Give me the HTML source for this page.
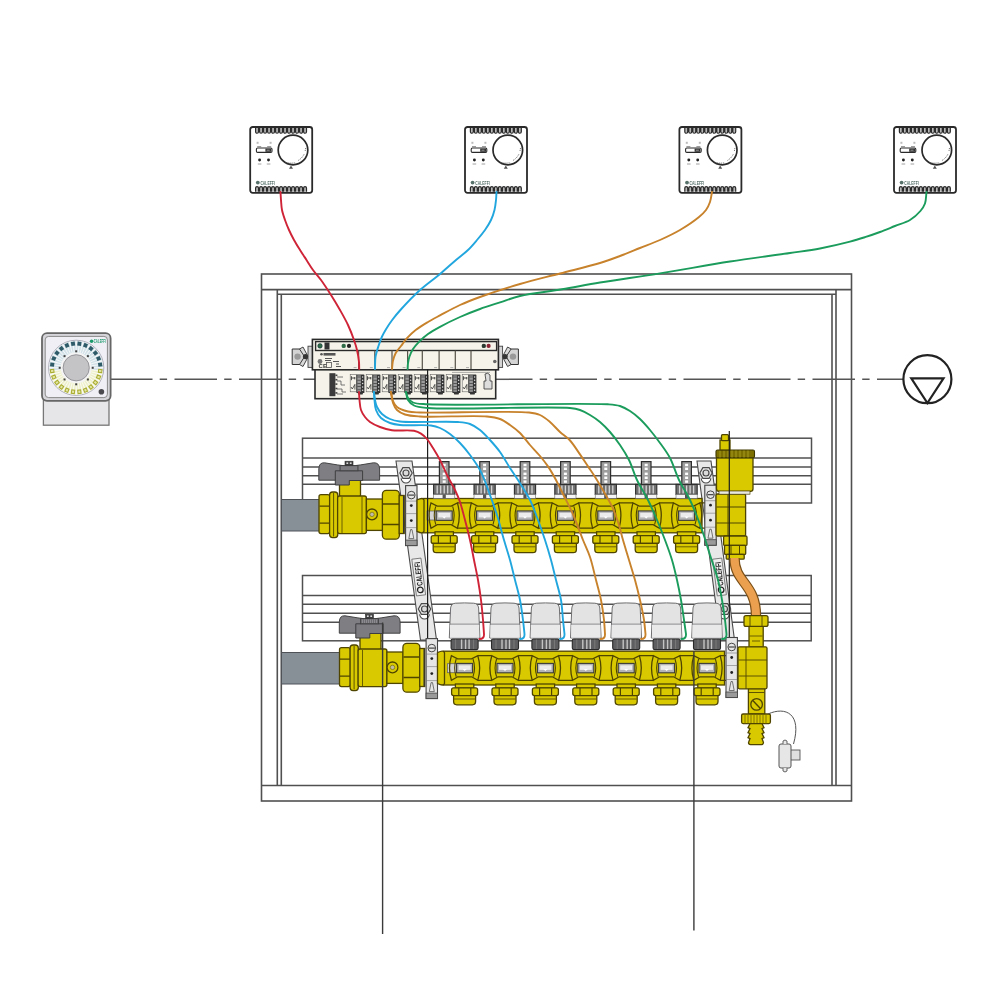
<!DOCTYPE html><html><head><meta charset="utf-8"><style>html,body{margin:0;padding:0;background:#fff}svg{display:block;will-change:transform}</style></head><body>
<svg width="1000" height="1000" viewBox="0 0 1000 1000"><defs><g id="thermo"><rect x="0" y="0" width="62" height="65.8" rx="2.5" fill="#fff" stroke="#2a2a2a" stroke-width="1.8"/><path d="M5.40 1 v3.8 a1.45 1.45 0 0 0 2.9 0 v-3.8 M9.40 1 v3.8 a1.45 1.45 0 0 0 2.9 0 v-3.8 M13.40 1 v3.8 a1.45 1.45 0 0 0 2.9 0 v-3.8 M17.40 1 v3.8 a1.45 1.45 0 0 0 2.9 0 v-3.8 M21.40 1 v3.8 a1.45 1.45 0 0 0 2.9 0 v-3.8 M25.40 1 v3.8 a1.45 1.45 0 0 0 2.9 0 v-3.8 M29.40 1 v3.8 a1.45 1.45 0 0 0 2.9 0 v-3.8 M33.40 1 v3.8 a1.45 1.45 0 0 0 2.9 0 v-3.8 M37.40 1 v3.8 a1.45 1.45 0 0 0 2.9 0 v-3.8 M41.40 1 v3.8 a1.45 1.45 0 0 0 2.9 0 v-3.8 M45.40 1 v3.8 a1.45 1.45 0 0 0 2.9 0 v-3.8 M49.40 1 v3.8 a1.45 1.45 0 0 0 2.9 0 v-3.8 M53.40 1 v3.8 a1.45 1.45 0 0 0 2.9 0 v-3.8 " fill="#b8b8b8" stroke="#2a2a2a" stroke-width="1.2"/><path d="M5.40 64.8 v-3.8 a1.45 1.45 0 0 1 2.9 0 v3.8 M9.40 64.8 v-3.8 a1.45 1.45 0 0 1 2.9 0 v3.8 M13.40 64.8 v-3.8 a1.45 1.45 0 0 1 2.9 0 v3.8 M17.40 64.8 v-3.8 a1.45 1.45 0 0 1 2.9 0 v3.8 M21.40 64.8 v-3.8 a1.45 1.45 0 0 1 2.9 0 v3.8 M25.40 64.8 v-3.8 a1.45 1.45 0 0 1 2.9 0 v3.8 M29.40 64.8 v-3.8 a1.45 1.45 0 0 1 2.9 0 v3.8 M33.40 64.8 v-3.8 a1.45 1.45 0 0 1 2.9 0 v3.8 M37.40 64.8 v-3.8 a1.45 1.45 0 0 1 2.9 0 v3.8 M41.40 64.8 v-3.8 a1.45 1.45 0 0 1 2.9 0 v3.8 M45.40 64.8 v-3.8 a1.45 1.45 0 0 1 2.9 0 v3.8 M49.40 64.8 v-3.8 a1.45 1.45 0 0 1 2.9 0 v3.8 M53.40 64.8 v-3.8 a1.45 1.45 0 0 1 2.9 0 v3.8 " fill="#b8b8b8" stroke="#2a2a2a" stroke-width="1.2"/><circle cx="42.8" cy="23" r="14.8" fill="#fff" stroke="#2a2a2a" stroke-width="1.7"/><path d="M35.5 35.5 q5 1.2 10 0.2 M48 33.5 q4 -2.5 6 -6.5 M55 24 l0.5 -3" stroke="#555" stroke-width="0.8" fill="none" stroke-dasharray="1.2 0.8"/><path d="M38.8 41.8 l2 -3.4 l2 3.4 z" fill="#555"/><rect x="6.2" y="21" width="15.6" height="4.4" rx="1.2" fill="#fff" stroke="#2a2a2a" stroke-width="1.1"/><rect x="15.2" y="21.6" width="5.8" height="3.2" fill="#333"/><path d="M16.5 23.2 h3" stroke="#ddd" stroke-width="0.6"/><rect x="6.4" y="14.8" width="2" height="2" fill="#bbb"/><rect x="19.4" y="14.8" width="2" height="2" fill="#bbb"/><path d="M7 19.7 h4 M17 19.7 h4" stroke="#666" stroke-width="0.8"/><circle cx="9.4" cy="33" r="1.45" fill="#222"/><circle cx="18.3" cy="33" r="1.45" fill="#222"/><path d="M7.6 37 h3.6 M16.6 37 h3.6" stroke="#888" stroke-width="0.8"/><g fill="#56706a"><circle cx="7.6" cy="55.6" r="1.9"/></g><text x="10.2" y="57.6" font-family="Liberation Sans" font-weight="bold" font-size="5" textLength="14.5" lengthAdjust="spacingAndGlyphs" fill="#56706a">CALEFFI</text></g><g id="valveasm"><path d="M339.5 470 h21 v27 h-21 z" fill="#d9c900" stroke="#4f4500" stroke-width="1.3"/><path d="M340 496 q10 6 20 0" fill="none" stroke="#4f4500" stroke-width="1"/><rect x="319" y="494.7" width="10.8" height="38.9" rx="2" fill="#d9c900" stroke="#4f4500" stroke-width="1.3"/><path d="M319.5 506.2 h10 M319.5 523.2 h10" stroke="#4f4500" stroke-width="1.3"/><rect x="329.6" y="492" width="8.2" height="45.6" rx="3" fill="#d9c900" stroke="#4f4500" stroke-width="1.3"/><line x1="333.6" y1="493" x2="333.6" y2="536.5" stroke="#4f4500" stroke-width="0.9"/><rect x="337.6" y="496" width="28.8" height="37.6" rx="2" fill="#d9c900" stroke="#4f4500" stroke-width="1.3"/><path d="M342 497 v36 M362 497 v36" stroke="#4f4500" stroke-width="0.8"/><rect x="366.4" y="499" width="16.2" height="31.4" fill="#d9c900" stroke="#4f4500" stroke-width="1.3"/><circle cx="372" cy="514.4" r="5.4" fill="#d9c900" stroke="#4f4500" stroke-width="1.3"/><circle cx="372" cy="514.4" r="2.2" fill="#c0baa8" stroke="#6a6000" stroke-width="0.6"/><rect x="382.4" y="490.4" width="17" height="48.8" rx="4" fill="#d9c900" stroke="#4f4500" stroke-width="1.3"/><path d="M383 504 h16 M383 524.5 h16" stroke="#4f4500" stroke-width="1.4"/><rect x="399.2" y="495.5" width="5" height="38" fill="#d9c900" stroke="#4f4500" stroke-width="1.3"/><line x1="403.6" y1="496" x2="403.6" y2="533" stroke="#333" stroke-width="1.3"/><path d="M318.8 480.2 L318.8 469 Q319 462.4 324.5 462.8 Q338 465.2 349 466.4 Q360 465.2 373.5 462.8 Q379.4 462.4 379.6 469 L379.6 480.2 Z" fill="#7f7f83" stroke="#444446" stroke-width="1"/><path d="M335.3 470.8 h27.3 v9.7 h-13.3 v4.5 h-14 z" fill="#7c7c80" stroke="#3e3e40" stroke-width="1"/><rect x="340" y="465.6" width="18" height="5.2" fill="#6e6e72" stroke="#3e3e40" stroke-width="0.8"/><path d="M342 466.5 v3.5 M344 466.5 v3.5 M346 466.5 v3.5 M348 466.5 v3.5 M350 466.5 v3.5 M352 466.5 v3.5 M354 466.5 v3.5 M356 466.5 v3.5" stroke="#a0a0a4" stroke-width="0.6"/><rect x="345" y="461.2" width="8" height="4.4" fill="#3c3c3e" stroke="#333" stroke-width="0.6"/><rect x="346.4" y="462.4" width="1.8" height="1.6" fill="#ddd"/><rect x="349.8" y="462.4" width="1.8" height="1.6" fill="#ddd"/><g transform="translate(405.6 485.6)"><rect x="0" y="0" width="11.4" height="60" fill="#e6e6e7" stroke="#444" stroke-width="1.1"/><circle cx="5.7" cy="9.5" r="3.8" fill="#e6e6e7" stroke="#333" stroke-width="0.9"/><path d="M2.6 9.5 h6.2" stroke="#333" stroke-width="1.1"/><path d="M0 15.5 h11.4 M0 28 h11.4 M0 42 h11.4" stroke="#777" stroke-width="0.6"/><circle cx="5.7" cy="20" r="1.4" fill="#222"/><circle cx="5.7" cy="35" r="1.4" fill="#222"/><path d="M3.2 53 L5 44 h1.4 L8.2 53 Z" fill="none" stroke="#555" stroke-width="0.8"/><rect x="0" y="54.5" width="11.4" height="5.5" fill="#9a9a9a" stroke="#444" stroke-width="0.8"/></g></g></defs><rect width="1000" height="1000" fill="#fff"/><g fill="none" stroke="#505050" stroke-width="1.6"><rect x="261.5" y="274" width="590" height="527"/><line x1="261.5" y1="289.6" x2="851.5" y2="289.6"/><line x1="261.5" y1="785.5" x2="851.5" y2="785.5"/><line x1="277.3" y1="289.6" x2="277.3" y2="785.5"/><line x1="281.3" y1="294.2" x2="281.3" y2="785.5"/><line x1="277.3" y1="294.2" x2="836" y2="294.2"/><line x1="836" y1="289.6" x2="836" y2="785.5"/><line x1="832" y1="294.2" x2="832" y2="785.5"/></g>
<line x1="110" y1="379.3" x2="315" y2="379.3" stroke="#555" stroke-width="1.5" stroke-dasharray="42.5 7.2 7.4 7.4"/>
<line x1="495.5" y1="379.3" x2="903" y2="379.3" stroke="#555" stroke-width="1.5" stroke-dasharray="42.5 7.2 7.4 7.4" stroke-dashoffset="5.5"/>
<circle cx="927.4" cy="379.2" r="24" fill="none" stroke="#222" stroke-width="2.2"/>
<path d="M911.3 378.3 L943.5 378.3 L927.4 403 Z" fill="none" stroke="#222" stroke-width="2.2" stroke-linejoin="miter"/>
<g><rect x="43.4" y="399" width="65.6" height="26.2" fill="#e6e6e8" stroke="#777" stroke-width="1.3"/><rect x="42" y="333.2" width="68.6" height="67.6" rx="5" fill="#d6d6da" stroke="#666" stroke-width="1.8"/><rect x="45.2" y="336.4" width="62.2" height="61.2" rx="3.5" fill="#f0eff6" stroke="#8a8a8a" stroke-width="1"/><circle cx="76.2" cy="367.8" r="27.6" fill="#f4f4f4" stroke="#9a9aa8" stroke-width="0.8"/><line x1="77.21" y1="352.33" x2="77.97" y2="340.86" stroke="#d3e2e8" stroke-width="2.6"/><line x1="79.22" y1="352.60" x2="81.47" y2="341.32" stroke="#d3e2e8" stroke-width="2.6"/><line x1="81.18" y1="353.12" x2="84.88" y2="342.23" stroke="#d3e2e8" stroke-width="2.6"/><line x1="83.06" y1="353.90" x2="88.14" y2="343.58" stroke="#d3e2e8" stroke-width="2.6"/><line x1="84.81" y1="354.91" x2="91.20" y2="345.35" stroke="#d3e2e8" stroke-width="2.6"/><line x1="86.42" y1="356.15" x2="94.00" y2="347.50" stroke="#d3e2e8" stroke-width="2.6"/><line x1="87.85" y1="357.58" x2="96.50" y2="350.00" stroke="#d3e2e8" stroke-width="2.6"/><line x1="89.09" y1="359.19" x2="98.65" y2="352.80" stroke="#d3e2e8" stroke-width="2.6"/><line x1="90.10" y1="360.94" x2="100.42" y2="355.86" stroke="#d3e2e8" stroke-width="2.6"/><line x1="90.88" y1="362.82" x2="101.77" y2="359.12" stroke="#d3e2e8" stroke-width="2.6"/><line x1="91.40" y1="364.78" x2="102.68" y2="362.53" stroke="#d3e2e8" stroke-width="2.6"/><line x1="91.67" y1="366.79" x2="103.14" y2="366.03" stroke="#d3e2e8" stroke-width="2.6"/><line x1="91.67" y1="368.81" x2="103.14" y2="369.57" stroke="#d3e2e8" stroke-width="2.6"/><line x1="91.40" y1="370.82" x2="102.68" y2="373.07" stroke="#eef0cc" stroke-width="2.6"/><line x1="90.88" y1="372.78" x2="101.77" y2="376.48" stroke="#eef0cc" stroke-width="2.6"/><line x1="90.10" y1="374.66" x2="100.42" y2="379.74" stroke="#eef0cc" stroke-width="2.6"/><line x1="89.09" y1="376.41" x2="98.65" y2="382.80" stroke="#eef0cc" stroke-width="2.6"/><line x1="87.85" y1="378.02" x2="96.50" y2="385.60" stroke="#eef0cc" stroke-width="2.6"/><line x1="86.42" y1="379.45" x2="94.00" y2="388.10" stroke="#eef0cc" stroke-width="2.6"/><line x1="84.81" y1="380.69" x2="91.20" y2="390.25" stroke="#eef0cc" stroke-width="2.6"/><line x1="83.06" y1="381.70" x2="88.14" y2="392.02" stroke="#eef0cc" stroke-width="2.6"/><line x1="81.18" y1="382.48" x2="84.88" y2="393.37" stroke="#eef0cc" stroke-width="2.6"/><line x1="79.22" y1="383.00" x2="81.47" y2="394.28" stroke="#eef0cc" stroke-width="2.6"/><line x1="77.21" y1="383.27" x2="77.97" y2="394.74" stroke="#eef0cc" stroke-width="2.6"/><line x1="75.19" y1="383.27" x2="74.43" y2="394.74" stroke="#eef0cc" stroke-width="2.6"/><line x1="73.18" y1="383.00" x2="70.93" y2="394.28" stroke="#eef0cc" stroke-width="2.6"/><line x1="71.22" y1="382.48" x2="67.52" y2="393.37" stroke="#eef0cc" stroke-width="2.6"/><line x1="69.34" y1="381.70" x2="64.26" y2="392.02" stroke="#eef0cc" stroke-width="2.6"/><line x1="67.59" y1="380.69" x2="61.20" y2="390.25" stroke="#eef0cc" stroke-width="2.6"/><line x1="65.98" y1="379.45" x2="58.40" y2="388.10" stroke="#eef0cc" stroke-width="2.6"/><line x1="64.55" y1="378.02" x2="55.90" y2="385.60" stroke="#eef0cc" stroke-width="2.6"/><line x1="63.31" y1="376.41" x2="53.75" y2="382.80" stroke="#eef0cc" stroke-width="2.6"/><line x1="62.30" y1="374.66" x2="51.98" y2="379.74" stroke="#eef0cc" stroke-width="2.6"/><line x1="61.52" y1="372.78" x2="50.63" y2="376.48" stroke="#eef0cc" stroke-width="2.6"/><line x1="61.00" y1="370.82" x2="49.72" y2="373.07" stroke="#eef0cc" stroke-width="2.6"/><line x1="60.73" y1="368.81" x2="49.26" y2="369.57" stroke="#d3e2e8" stroke-width="2.6"/><line x1="60.73" y1="366.79" x2="49.26" y2="366.03" stroke="#d3e2e8" stroke-width="2.6"/><line x1="61.00" y1="364.78" x2="49.72" y2="362.53" stroke="#d3e2e8" stroke-width="2.6"/><line x1="61.52" y1="362.82" x2="50.63" y2="359.12" stroke="#d3e2e8" stroke-width="2.6"/><line x1="62.30" y1="360.94" x2="51.98" y2="355.86" stroke="#d3e2e8" stroke-width="2.6"/><line x1="63.31" y1="359.19" x2="53.75" y2="352.80" stroke="#d3e2e8" stroke-width="2.6"/><line x1="64.55" y1="357.58" x2="55.90" y2="350.00" stroke="#d3e2e8" stroke-width="2.6"/><line x1="65.98" y1="356.15" x2="58.40" y2="347.50" stroke="#d3e2e8" stroke-width="2.6"/><line x1="67.59" y1="354.91" x2="61.20" y2="345.35" stroke="#d3e2e8" stroke-width="2.6"/><line x1="69.34" y1="353.90" x2="64.26" y2="343.58" stroke="#d3e2e8" stroke-width="2.6"/><line x1="71.22" y1="353.12" x2="67.52" y2="342.23" stroke="#d3e2e8" stroke-width="2.6"/><line x1="73.18" y1="352.60" x2="70.93" y2="341.32" stroke="#d3e2e8" stroke-width="2.6"/><line x1="75.19" y1="352.33" x2="74.43" y2="340.86" stroke="#d3e2e8" stroke-width="2.6"/><line x1="76.20" y1="352.30" x2="76.20" y2="340.80" stroke="#fff" stroke-width="0.7"/><line x1="78.22" y1="352.43" x2="79.72" y2="341.03" stroke="#fff" stroke-width="0.7"/><line x1="80.21" y1="352.83" x2="83.19" y2="341.72" stroke="#fff" stroke-width="0.7"/><line x1="82.13" y1="353.48" x2="86.53" y2="342.86" stroke="#fff" stroke-width="0.7"/><line x1="83.95" y1="354.38" x2="89.70" y2="344.42" stroke="#fff" stroke-width="0.7"/><line x1="85.64" y1="355.50" x2="92.64" y2="346.38" stroke="#fff" stroke-width="0.7"/><line x1="87.16" y1="356.84" x2="95.29" y2="348.71" stroke="#fff" stroke-width="0.7"/><line x1="88.50" y1="358.36" x2="97.62" y2="351.36" stroke="#fff" stroke-width="0.7"/><line x1="89.62" y1="360.05" x2="99.58" y2="354.30" stroke="#fff" stroke-width="0.7"/><line x1="90.52" y1="361.87" x2="101.14" y2="357.47" stroke="#fff" stroke-width="0.7"/><line x1="91.17" y1="363.79" x2="102.28" y2="360.81" stroke="#fff" stroke-width="0.7"/><line x1="91.57" y1="365.78" x2="102.97" y2="364.28" stroke="#fff" stroke-width="0.7"/><line x1="91.70" y1="367.80" x2="103.20" y2="367.80" stroke="#fff" stroke-width="0.7"/><line x1="91.57" y1="369.82" x2="102.97" y2="371.32" stroke="#fff" stroke-width="0.7"/><line x1="91.17" y1="371.81" x2="102.28" y2="374.79" stroke="#fff" stroke-width="0.7"/><line x1="90.52" y1="373.73" x2="101.14" y2="378.13" stroke="#fff" stroke-width="0.7"/><line x1="89.62" y1="375.55" x2="99.58" y2="381.30" stroke="#fff" stroke-width="0.7"/><line x1="88.50" y1="377.24" x2="97.62" y2="384.24" stroke="#fff" stroke-width="0.7"/><line x1="87.16" y1="378.76" x2="95.29" y2="386.89" stroke="#fff" stroke-width="0.7"/><line x1="85.64" y1="380.10" x2="92.64" y2="389.22" stroke="#fff" stroke-width="0.7"/><line x1="83.95" y1="381.22" x2="89.70" y2="391.18" stroke="#fff" stroke-width="0.7"/><line x1="82.13" y1="382.12" x2="86.53" y2="392.74" stroke="#fff" stroke-width="0.7"/><line x1="80.21" y1="382.77" x2="83.19" y2="393.88" stroke="#fff" stroke-width="0.7"/><line x1="78.22" y1="383.17" x2="79.72" y2="394.57" stroke="#fff" stroke-width="0.7"/><line x1="76.20" y1="383.30" x2="76.20" y2="394.80" stroke="#fff" stroke-width="0.7"/><line x1="74.18" y1="383.17" x2="72.68" y2="394.57" stroke="#fff" stroke-width="0.7"/><line x1="72.19" y1="382.77" x2="69.21" y2="393.88" stroke="#fff" stroke-width="0.7"/><line x1="70.27" y1="382.12" x2="65.87" y2="392.74" stroke="#fff" stroke-width="0.7"/><line x1="68.45" y1="381.22" x2="62.70" y2="391.18" stroke="#fff" stroke-width="0.7"/><line x1="66.76" y1="380.10" x2="59.76" y2="389.22" stroke="#fff" stroke-width="0.7"/><line x1="65.24" y1="378.76" x2="57.11" y2="386.89" stroke="#fff" stroke-width="0.7"/><line x1="63.90" y1="377.24" x2="54.78" y2="384.24" stroke="#fff" stroke-width="0.7"/><line x1="62.78" y1="375.55" x2="52.82" y2="381.30" stroke="#fff" stroke-width="0.7"/><line x1="61.88" y1="373.73" x2="51.26" y2="378.13" stroke="#fff" stroke-width="0.7"/><line x1="61.23" y1="371.81" x2="50.12" y2="374.79" stroke="#fff" stroke-width="0.7"/><line x1="60.83" y1="369.82" x2="49.43" y2="371.32" stroke="#fff" stroke-width="0.7"/><line x1="60.70" y1="367.80" x2="49.20" y2="367.80" stroke="#fff" stroke-width="0.7"/><line x1="60.83" y1="365.78" x2="49.43" y2="364.28" stroke="#fff" stroke-width="0.7"/><line x1="61.23" y1="363.79" x2="50.12" y2="360.81" stroke="#fff" stroke-width="0.7"/><line x1="61.88" y1="361.87" x2="51.26" y2="357.47" stroke="#fff" stroke-width="0.7"/><line x1="62.78" y1="360.05" x2="52.82" y2="354.30" stroke="#fff" stroke-width="0.7"/><line x1="63.90" y1="358.36" x2="54.78" y2="351.36" stroke="#fff" stroke-width="0.7"/><line x1="65.24" y1="356.84" x2="57.11" y2="348.71" stroke="#fff" stroke-width="0.7"/><line x1="66.76" y1="355.50" x2="59.76" y2="346.38" stroke="#fff" stroke-width="0.7"/><line x1="68.45" y1="354.38" x2="62.70" y2="344.42" stroke="#fff" stroke-width="0.7"/><line x1="70.27" y1="353.48" x2="65.87" y2="342.86" stroke="#fff" stroke-width="0.7"/><line x1="72.19" y1="352.83" x2="69.21" y2="341.72" stroke="#fff" stroke-width="0.7"/><line x1="74.18" y1="352.43" x2="72.68" y2="341.03" stroke="#fff" stroke-width="0.7"/><rect x="-2" y="-1.9" width="4" height="3.8" fill="#2f5b69" transform="translate(79.36 343.81) rotate(-82.5)"/><rect x="-2" y="-1.9" width="4" height="3.8" fill="#2f5b69" transform="translate(85.46 345.44) rotate(-67.5)"/><rect x="75.20" y="350.30" width="2" height="2" fill="#444"/><rect x="-2" y="-1.9" width="4" height="3.8" fill="#2f5b69" transform="translate(90.93 348.60) rotate(-52.5)"/><rect x="-2" y="-1.9" width="4" height="3.8" fill="#2f5b69" transform="translate(95.40 353.07) rotate(-37.5)"/><rect x="-2" y="-1.9" width="4" height="3.8" fill="#2f5b69" transform="translate(98.56 358.54) rotate(-22.5)"/><rect x="86.87" y="355.13" width="2" height="2" fill="#444"/><rect x="-2" y="-1.9" width="4" height="3.8" fill="#2f5b69" transform="translate(100.19 364.64) rotate(-7.5)"/><rect x="-1.7" y="-1.5" width="3.4" height="3" fill="#e4e6a8" stroke="#a9ab30" stroke-width="1" transform="translate(100.19 370.96) rotate(7.5)"/><rect x="-1.7" y="-1.5" width="3.4" height="3" fill="#e4e6a8" stroke="#a9ab30" stroke-width="1" transform="translate(98.56 377.06) rotate(22.5)"/><rect x="91.70" y="366.80" width="2" height="2" fill="#444"/><rect x="-1.7" y="-1.5" width="3.4" height="3" fill="#e4e6a8" stroke="#a9ab30" stroke-width="1" transform="translate(95.40 382.53) rotate(37.5)"/><rect x="-1.7" y="-1.5" width="3.4" height="3" fill="#e4e6a8" stroke="#a9ab30" stroke-width="1" transform="translate(90.93 387.00) rotate(52.5)"/><rect x="-1.7" y="-1.5" width="3.4" height="3" fill="#e4e6a8" stroke="#a9ab30" stroke-width="1" transform="translate(85.46 390.16) rotate(67.5)"/><rect x="86.87" y="378.47" width="2" height="2" fill="#444"/><rect x="-1.7" y="-1.5" width="3.4" height="3" fill="#e4e6a8" stroke="#a9ab30" stroke-width="1" transform="translate(79.36 391.79) rotate(82.5)"/><rect x="-1.7" y="-1.5" width="3.4" height="3" fill="#e4e6a8" stroke="#a9ab30" stroke-width="1" transform="translate(73.04 391.79) rotate(97.5)"/><rect x="-1.7" y="-1.5" width="3.4" height="3" fill="#e4e6a8" stroke="#a9ab30" stroke-width="1" transform="translate(66.94 390.16) rotate(112.5)"/><rect x="75.20" y="383.30" width="2" height="2" fill="#444"/><rect x="-1.7" y="-1.5" width="3.4" height="3" fill="#e4e6a8" stroke="#a9ab30" stroke-width="1" transform="translate(61.47 387.00) rotate(127.5)"/><rect x="-1.7" y="-1.5" width="3.4" height="3" fill="#e4e6a8" stroke="#a9ab30" stroke-width="1" transform="translate(57.00 382.53) rotate(142.5)"/><rect x="-1.7" y="-1.5" width="3.4" height="3" fill="#e4e6a8" stroke="#a9ab30" stroke-width="1" transform="translate(53.84 377.06) rotate(157.5)"/><rect x="63.53" y="378.47" width="2" height="2" fill="#444"/><rect x="-1.7" y="-1.5" width="3.4" height="3" fill="#e4e6a8" stroke="#a9ab30" stroke-width="1" transform="translate(52.21 370.96) rotate(172.5)"/><rect x="-2" y="-1.9" width="4" height="3.8" fill="#2f5b69" transform="translate(52.21 364.64) rotate(187.5)"/><rect x="-2" y="-1.9" width="4" height="3.8" fill="#2f5b69" transform="translate(53.84 358.54) rotate(202.5)"/><rect x="58.70" y="366.80" width="2" height="2" fill="#444"/><rect x="-2" y="-1.9" width="4" height="3.8" fill="#2f5b69" transform="translate(57.00 353.07) rotate(217.5)"/><rect x="-2" y="-1.9" width="4" height="3.8" fill="#2f5b69" transform="translate(61.47 348.60) rotate(232.5)"/><rect x="-2" y="-1.9" width="4" height="3.8" fill="#2f5b69" transform="translate(66.94 345.44) rotate(247.5)"/><rect x="63.53" y="355.13" width="2" height="2" fill="#444"/><rect x="-2" y="-1.9" width="4" height="3.8" fill="#2f5b69" transform="translate(73.04 343.81) rotate(262.5)"/><circle cx="76.2" cy="367.8" r="13.1" fill="#c4c4c6" stroke="#8e8e94" stroke-width="0.9"/><circle cx="101.4" cy="391.8" r="2.8" fill="#4a4a4e"/><g fill="#1d9a6c"><circle cx="91.6" cy="341.2" r="1.8"/><text x="93.8" y="343.1" font-family="Liberation Sans" font-weight="bold" font-size="4.6" textLength="12" lengthAdjust="spacingAndGlyphs">CALEFFI</text></g></g>
<use href="#thermo" x="250.2" y="127"/>
<use href="#thermo" x="465.0" y="127"/>
<use href="#thermo" x="679.4" y="127"/>
<use href="#thermo" x="894.0" y="127"/>
<g fill="none" stroke="#505050" stroke-width="1.5"><rect x="302.5" y="438.2" width="509" height="64.8"/><line x1="302.5" y1="458" x2="811.5" y2="458"/><line x1="302.5" y1="467" x2="811.5" y2="467"/><line x1="302.5" y1="475.7" x2="811.5" y2="475.7"/><line x1="302.5" y1="484.3" x2="811.5" y2="484.3"/><rect x="302.5" y="575.5" width="508.7" height="65.3"/><line x1="302.5" y1="595.6" x2="811.2" y2="595.6"/><line x1="302.5" y1="604.3" x2="811.2" y2="604.3"/><line x1="302.5" y1="613.2" x2="811.2" y2="613.2"/><line x1="302.5" y1="622.2" x2="811.2" y2="622.2"/></g>
<g fill="#e8e8e9" stroke="#4a4a4a" stroke-width="1.1"><path d="M396 461 L412 461 L436.5 640 L420.5 640 Z"/><path d="M697 461 L711 461 L734.5 640 L720.5 640 Z"/><path d="M401.2 478.2 A4.8 4.8 0 0 0 410.8 478.2" fill="#fff"/><path d="M399.8 473 L402.9 467.6 H409.1 L412.2 473 L409.1 478.4 H402.9 Z" stroke-width="1.2"/><circle cx="406" cy="473" r="3" fill="#dcdcdc" stroke-width="1.2"/><path d="M701.2 478.2 A4.8 4.8 0 0 0 710.8 478.2" fill="#fff"/><path d="M699.8 473 L702.9 467.6 H709.1 L712.2 473 L709.1 478.4 H702.9 Z" stroke-width="1.2"/><circle cx="706" cy="473" r="3" fill="#dcdcdc" stroke-width="1.2"/><path d="M419.7 614.2 A4.8 4.8 0 0 0 429.3 614.2" fill="#fff"/><path d="M418.3 609 L421.4 603.6 H427.6 L430.7 609 L427.6 614.4 H421.4 Z" stroke-width="1.2"/><circle cx="424.5" cy="609" r="3" fill="#dcdcdc" stroke-width="1.2"/><path d="M719.7 614.2 A4.8 4.8 0 0 0 729.3 614.2" fill="#fff"/><path d="M718.3 609 L721.4 603.6 H727.6 L730.7 609 L727.6 614.4 H721.4 Z" stroke-width="1.2"/><circle cx="724.5" cy="609" r="3" fill="#dcdcdc" stroke-width="1.2"/></g><g transform="translate(418.7 577) rotate(-97.2)"><rect x="-18.5" y="-4.6" width="37" height="9.2" fill="#ededed" stroke="#555" stroke-width="0.7"/><circle cx="-13" cy="0" r="2.8" fill="none" stroke="#222" stroke-width="1.2"/><text x="-9" y="2.9" font-family="Liberation Sans" font-weight="bold" font-size="8" textLength="24" lengthAdjust="spacingAndGlyphs" fill="#222">CALEFFI</text></g><g transform="translate(719.5 577) rotate(-97.2)"><rect x="-18.5" y="-4.6" width="37" height="9.2" fill="#ededed" stroke="#555" stroke-width="0.7"/><circle cx="-13" cy="0" r="2.8" fill="none" stroke="#222" stroke-width="1.2"/><text x="-9" y="2.9" font-family="Liberation Sans" font-weight="bold" font-size="8" textLength="24" lengthAdjust="spacingAndGlyphs" fill="#222">CALEFFI</text></g>
<rect x="281.5" y="499.5" width="38" height="31.5" fill="#878f97" stroke="#4f5358" stroke-width="1"/>
<rect x="281.5" y="652.5" width="58.5" height="31.5" fill="#878f97" stroke="#4f5358" stroke-width="1"/>
<use href="#valveasm"/>
<rect x="423" y="498.5" width="279" height="34.3" fill="#d9c900" stroke="#4f4500" stroke-width="1.3"/><path d="M417 500.0 q6 -3 7 0 v31.299999999999997 q-1 3 -7 0 z" fill="#d9c900" stroke="#4f4500" stroke-width="1.3"/><rect x="427" y="511.0" width="9" height="9" fill="#d4d4d4" stroke="#666" stroke-width="0.8"/><path d="M431.0 502.9 Q427.2 515.65 431.0 528.1999999999999 L437.2 524.5999999999999 H451.2 L457.4 528.1999999999999 Q461.2 515.65 457.4 502.9 L451.2 506.09999999999997 H437.2 Z" fill="none" stroke="#4f4500" stroke-width="1.3"/><path d="M435.8 506.29999999999995 Q432.7 515.65 435.8 524.5999999999999 M452.59999999999997 506.29999999999995 Q455.7 515.65 452.59999999999997 524.5999999999999" fill="none" stroke="#4f4500" stroke-width="1.1"/><path d="M457.4 502.9 H471.4 M457.4 528.1999999999999 H471.4" stroke="#4f4500" stroke-width="1.2"/><rect x="436.2" y="510.95" width="16" height="9.4" fill="#b5b5b5" stroke="#3a3a3a" stroke-width="1.1"/><rect x="438.2" y="512.85" width="12" height="4.6" fill="#ececec"/><path d="M442.2 516.4499999999999 h4 l-2 2z" fill="#fff"/><rect x="435.0" y="531.8" width="18.4" height="4" fill="#d9c900" stroke="#4f4500" stroke-width="1.3"/><rect x="431.2" y="535.5999999999999" width="26" height="7.8" rx="2" fill="#d9c900" stroke="#4f4500" stroke-width="1.3"/><path d="M438.4 535.8 v7.6 M450.4 535.8 v7.6" stroke="#4f4500" stroke-width="1.2"/><path d="M433.2 543.4 h22 v6 q0 3.2 -3.2 3.2 h-15.6 q-3.2 0 -3.2 -3.2 z" fill="#d9c900" stroke="#4f4500" stroke-width="1.3"/><path d="M433.7 546.8 h21" stroke="#4f4500" stroke-width="0.8"/><path d="M471.4 502.9 Q467.59999999999997 515.65 471.4 528.1999999999999 L477.59999999999997 524.5999999999999 H491.59999999999997 L497.79999999999995 528.1999999999999 Q501.59999999999997 515.65 497.79999999999995 502.9 L491.59999999999997 506.09999999999997 H477.59999999999997 Z" fill="none" stroke="#4f4500" stroke-width="1.3"/><path d="M476.2 506.29999999999995 Q473.09999999999997 515.65 476.2 524.5999999999999 M492.99999999999994 506.29999999999995 Q496.09999999999997 515.65 492.99999999999994 524.5999999999999" fill="none" stroke="#4f4500" stroke-width="1.1"/><path d="M497.79999999999995 502.9 H511.79999999999995 M497.79999999999995 528.1999999999999 H511.79999999999995" stroke="#4f4500" stroke-width="1.2"/><rect x="476.59999999999997" y="510.95" width="16" height="9.4" fill="#b5b5b5" stroke="#3a3a3a" stroke-width="1.1"/><rect x="478.59999999999997" y="512.85" width="12" height="4.6" fill="#ececec"/><path d="M482.59999999999997 516.4499999999999 h4 l-2 2z" fill="#fff"/><rect x="475.4" y="531.8" width="18.4" height="4" fill="#d9c900" stroke="#4f4500" stroke-width="1.3"/><rect x="471.59999999999997" y="535.5999999999999" width="26" height="7.8" rx="2" fill="#d9c900" stroke="#4f4500" stroke-width="1.3"/><path d="M478.79999999999995 535.8 v7.6 M490.79999999999995 535.8 v7.6" stroke="#4f4500" stroke-width="1.2"/><path d="M473.59999999999997 543.4 h22 v6 q0 3.2 -3.2 3.2 h-15.6 q-3.2 0 -3.2 -3.2 z" fill="#d9c900" stroke="#4f4500" stroke-width="1.3"/><path d="M474.09999999999997 546.8 h21" stroke="#4f4500" stroke-width="0.8"/><path d="M511.8 502.9 Q508.0 515.65 511.8 528.1999999999999 L518.0 524.5999999999999 H532.0 L538.2 528.1999999999999 Q542.0 515.65 538.2 502.9 L532.0 506.09999999999997 H518.0 Z" fill="none" stroke="#4f4500" stroke-width="1.3"/><path d="M516.6 506.29999999999995 Q513.5 515.65 516.6 524.5999999999999 M533.4 506.29999999999995 Q536.5 515.65 533.4 524.5999999999999" fill="none" stroke="#4f4500" stroke-width="1.1"/><path d="M538.2 502.9 H552.2 M538.2 528.1999999999999 H552.2" stroke="#4f4500" stroke-width="1.2"/><rect x="517.0" y="510.95" width="16" height="9.4" fill="#b5b5b5" stroke="#3a3a3a" stroke-width="1.1"/><rect x="519.0" y="512.85" width="12" height="4.6" fill="#ececec"/><path d="M523.0 516.4499999999999 h4 l-2 2z" fill="#fff"/><rect x="515.8" y="531.8" width="18.4" height="4" fill="#d9c900" stroke="#4f4500" stroke-width="1.3"/><rect x="512.0" y="535.5999999999999" width="26" height="7.8" rx="2" fill="#d9c900" stroke="#4f4500" stroke-width="1.3"/><path d="M519.2 535.8 v7.6 M531.2 535.8 v7.6" stroke="#4f4500" stroke-width="1.2"/><path d="M514.0 543.4 h22 v6 q0 3.2 -3.2 3.2 h-15.6 q-3.2 0 -3.2 -3.2 z" fill="#d9c900" stroke="#4f4500" stroke-width="1.3"/><path d="M514.5 546.8 h21" stroke="#4f4500" stroke-width="0.8"/><path d="M552.1999999999999 502.9 Q548.4 515.65 552.1999999999999 528.1999999999999 L558.4 524.5999999999999 H572.4 L578.6 528.1999999999999 Q582.4 515.65 578.6 502.9 L572.4 506.09999999999997 H558.4 Z" fill="none" stroke="#4f4500" stroke-width="1.3"/><path d="M557.0 506.29999999999995 Q553.9 515.65 557.0 524.5999999999999 M573.8 506.29999999999995 Q576.9 515.65 573.8 524.5999999999999" fill="none" stroke="#4f4500" stroke-width="1.1"/><path d="M578.6 502.9 H592.6 M578.6 528.1999999999999 H592.6" stroke="#4f4500" stroke-width="1.2"/><rect x="557.4" y="510.95" width="16" height="9.4" fill="#b5b5b5" stroke="#3a3a3a" stroke-width="1.1"/><rect x="559.4" y="512.85" width="12" height="4.6" fill="#ececec"/><path d="M563.4 516.4499999999999 h4 l-2 2z" fill="#fff"/><rect x="556.1999999999999" y="531.8" width="18.4" height="4" fill="#d9c900" stroke="#4f4500" stroke-width="1.3"/><rect x="552.4" y="535.5999999999999" width="26" height="7.8" rx="2" fill="#d9c900" stroke="#4f4500" stroke-width="1.3"/><path d="M559.6 535.8 v7.6 M571.6 535.8 v7.6" stroke="#4f4500" stroke-width="1.2"/><path d="M554.4 543.4 h22 v6 q0 3.2 -3.2 3.2 h-15.6 q-3.2 0 -3.2 -3.2 z" fill="#d9c900" stroke="#4f4500" stroke-width="1.3"/><path d="M554.9 546.8 h21" stroke="#4f4500" stroke-width="0.8"/><path d="M592.5999999999999 502.9 Q588.8 515.65 592.5999999999999 528.1999999999999 L598.8 524.5999999999999 H612.8 L619.0 528.1999999999999 Q622.8 515.65 619.0 502.9 L612.8 506.09999999999997 H598.8 Z" fill="none" stroke="#4f4500" stroke-width="1.3"/><path d="M597.4 506.29999999999995 Q594.3 515.65 597.4 524.5999999999999 M614.1999999999999 506.29999999999995 Q617.3 515.65 614.1999999999999 524.5999999999999" fill="none" stroke="#4f4500" stroke-width="1.1"/><path d="M619.0 502.9 H633.0 M619.0 528.1999999999999 H633.0" stroke="#4f4500" stroke-width="1.2"/><rect x="597.8" y="510.95" width="16" height="9.4" fill="#b5b5b5" stroke="#3a3a3a" stroke-width="1.1"/><rect x="599.8" y="512.85" width="12" height="4.6" fill="#ececec"/><path d="M603.8 516.4499999999999 h4 l-2 2z" fill="#fff"/><rect x="596.5999999999999" y="531.8" width="18.4" height="4" fill="#d9c900" stroke="#4f4500" stroke-width="1.3"/><rect x="592.8" y="535.5999999999999" width="26" height="7.8" rx="2" fill="#d9c900" stroke="#4f4500" stroke-width="1.3"/><path d="M600.0 535.8 v7.6 M612.0 535.8 v7.6" stroke="#4f4500" stroke-width="1.2"/><path d="M594.8 543.4 h22 v6 q0 3.2 -3.2 3.2 h-15.6 q-3.2 0 -3.2 -3.2 z" fill="#d9c900" stroke="#4f4500" stroke-width="1.3"/><path d="M595.3 546.8 h21" stroke="#4f4500" stroke-width="0.8"/><path d="M633.0 502.9 Q629.2 515.65 633.0 528.1999999999999 L639.2 524.5999999999999 H653.2 L659.4000000000001 528.1999999999999 Q663.2 515.65 659.4000000000001 502.9 L653.2 506.09999999999997 H639.2 Z" fill="none" stroke="#4f4500" stroke-width="1.3"/><path d="M637.8000000000001 506.29999999999995 Q634.7 515.65 637.8000000000001 524.5999999999999 M654.6 506.29999999999995 Q657.7 515.65 654.6 524.5999999999999" fill="none" stroke="#4f4500" stroke-width="1.1"/><path d="M659.4000000000001 502.9 H673.4000000000001 M659.4000000000001 528.1999999999999 H673.4000000000001" stroke="#4f4500" stroke-width="1.2"/><rect x="638.2" y="510.95" width="16" height="9.4" fill="#b5b5b5" stroke="#3a3a3a" stroke-width="1.1"/><rect x="640.2" y="512.85" width="12" height="4.6" fill="#ececec"/><path d="M644.2 516.4499999999999 h4 l-2 2z" fill="#fff"/><rect x="637.0" y="531.8" width="18.4" height="4" fill="#d9c900" stroke="#4f4500" stroke-width="1.3"/><rect x="633.2" y="535.5999999999999" width="26" height="7.8" rx="2" fill="#d9c900" stroke="#4f4500" stroke-width="1.3"/><path d="M640.4000000000001 535.8 v7.6 M652.4000000000001 535.8 v7.6" stroke="#4f4500" stroke-width="1.2"/><path d="M635.2 543.4 h22 v6 q0 3.2 -3.2 3.2 h-15.6 q-3.2 0 -3.2 -3.2 z" fill="#d9c900" stroke="#4f4500" stroke-width="1.3"/><path d="M635.7 546.8 h21" stroke="#4f4500" stroke-width="0.8"/><path d="M673.3999999999999 502.9 Q669.5999999999999 515.65 673.3999999999999 528.1999999999999 L679.5999999999999 524.5999999999999 H693.5999999999999 L699.8 528.1999999999999 Q703.5999999999999 515.65 699.8 502.9 L693.5999999999999 506.09999999999997 H679.5999999999999 Z" fill="none" stroke="#4f4500" stroke-width="1.3"/><path d="M678.1999999999999 506.29999999999995 Q675.0999999999999 515.65 678.1999999999999 524.5999999999999 M694.9999999999999 506.29999999999995 Q698.0999999999999 515.65 694.9999999999999 524.5999999999999" fill="none" stroke="#4f4500" stroke-width="1.1"/><path d="M699.8 502.9 H713.8 M699.8 528.1999999999999 H713.8" stroke="#4f4500" stroke-width="1.2"/><rect x="678.5999999999999" y="510.95" width="16" height="9.4" fill="#b5b5b5" stroke="#3a3a3a" stroke-width="1.1"/><rect x="680.5999999999999" y="512.85" width="12" height="4.6" fill="#ececec"/><path d="M684.5999999999999 516.4499999999999 h4 l-2 2z" fill="#fff"/><rect x="677.3999999999999" y="531.8" width="18.4" height="4" fill="#d9c900" stroke="#4f4500" stroke-width="1.3"/><rect x="673.5999999999999" y="535.5999999999999" width="26" height="7.8" rx="2" fill="#d9c900" stroke="#4f4500" stroke-width="1.3"/><path d="M680.8 535.8 v7.6 M692.8 535.8 v7.6" stroke="#4f4500" stroke-width="1.2"/><path d="M675.5999999999999 543.4 h22 v6 q0 3.2 -3.2 3.2 h-15.6 q-3.2 0 -3.2 -3.2 z" fill="#d9c900" stroke="#4f4500" stroke-width="1.3"/><path d="M676.0999999999999 546.8 h21" stroke="#4f4500" stroke-width="0.8"/><rect x="439.4" y="461.6" width="9.6" height="23" fill="#9e9e9e" stroke="#2e2e2e" stroke-width="1.2"/><rect x="442.7" y="463.8" width="3" height="2.4" fill="#fff"/><rect x="442.7" y="467.6" width="3" height="2.4" fill="#fff"/><rect x="442.7" y="472.6" width="3" height="2.4" fill="#fff"/><rect x="442.7" y="476.6" width="3" height="2.4" fill="#fff"/><rect x="442.7" y="480.4" width="3" height="2.4" fill="#fff"/><rect x="433.59999999999997" y="484.4" width="21.2" height="10" fill="#707070" stroke="#2e2e2e" stroke-width="1.1"/><path d="M437.2 485.5 v8 M440.7 485.5 v8 M444.2 485.5 v8 M447.7 485.5 v8 M451.2 485.5 v8" stroke="#d6d6d6" stroke-width="1.3"/><rect x="433.59999999999997" y="494.4" width="21.2" height="4" fill="#f6f6f6" stroke="#666" stroke-width="0.6"/><rect x="442.59999999999997" y="494.4" width="3.2" height="4" fill="#555"/><rect x="479.79999999999995" y="461.6" width="9.6" height="23" fill="#9e9e9e" stroke="#2e2e2e" stroke-width="1.2"/><rect x="483.09999999999997" y="463.8" width="3" height="2.4" fill="#fff"/><rect x="483.09999999999997" y="467.6" width="3" height="2.4" fill="#fff"/><rect x="483.09999999999997" y="472.6" width="3" height="2.4" fill="#fff"/><rect x="483.09999999999997" y="476.6" width="3" height="2.4" fill="#fff"/><rect x="483.09999999999997" y="480.4" width="3" height="2.4" fill="#fff"/><rect x="473.99999999999994" y="484.4" width="21.2" height="10" fill="#707070" stroke="#2e2e2e" stroke-width="1.1"/><path d="M477.59999999999997 485.5 v8 M481.09999999999997 485.5 v8 M484.59999999999997 485.5 v8 M488.09999999999997 485.5 v8 M491.59999999999997 485.5 v8" stroke="#d6d6d6" stroke-width="1.3"/><rect x="473.99999999999994" y="494.4" width="21.2" height="4" fill="#f6f6f6" stroke="#666" stroke-width="0.6"/><rect x="482.99999999999994" y="494.4" width="3.2" height="4" fill="#555"/><rect x="520.2" y="461.6" width="9.6" height="23" fill="#9e9e9e" stroke="#2e2e2e" stroke-width="1.2"/><rect x="523.5" y="463.8" width="3" height="2.4" fill="#fff"/><rect x="523.5" y="467.6" width="3" height="2.4" fill="#fff"/><rect x="523.5" y="472.6" width="3" height="2.4" fill="#fff"/><rect x="523.5" y="476.6" width="3" height="2.4" fill="#fff"/><rect x="523.5" y="480.4" width="3" height="2.4" fill="#fff"/><rect x="514.4" y="484.4" width="21.2" height="10" fill="#707070" stroke="#2e2e2e" stroke-width="1.1"/><path d="M518.0 485.5 v8 M521.5 485.5 v8 M525.0 485.5 v8 M528.5 485.5 v8 M532.0 485.5 v8" stroke="#d6d6d6" stroke-width="1.3"/><rect x="514.4" y="494.4" width="21.2" height="4" fill="#f6f6f6" stroke="#666" stroke-width="0.6"/><rect x="523.4" y="494.4" width="3.2" height="4" fill="#555"/><rect x="560.6" y="461.6" width="9.6" height="23" fill="#9e9e9e" stroke="#2e2e2e" stroke-width="1.2"/><rect x="563.9" y="463.8" width="3" height="2.4" fill="#fff"/><rect x="563.9" y="467.6" width="3" height="2.4" fill="#fff"/><rect x="563.9" y="472.6" width="3" height="2.4" fill="#fff"/><rect x="563.9" y="476.6" width="3" height="2.4" fill="#fff"/><rect x="563.9" y="480.4" width="3" height="2.4" fill="#fff"/><rect x="554.8" y="484.4" width="21.2" height="10" fill="#707070" stroke="#2e2e2e" stroke-width="1.1"/><path d="M558.4 485.5 v8 M561.9 485.5 v8 M565.4 485.5 v8 M568.9 485.5 v8 M572.4 485.5 v8" stroke="#d6d6d6" stroke-width="1.3"/><rect x="554.8" y="494.4" width="21.2" height="4" fill="#f6f6f6" stroke="#666" stroke-width="0.6"/><rect x="563.8" y="494.4" width="3.2" height="4" fill="#555"/><rect x="601.0" y="461.6" width="9.6" height="23" fill="#9e9e9e" stroke="#2e2e2e" stroke-width="1.2"/><rect x="604.3" y="463.8" width="3" height="2.4" fill="#fff"/><rect x="604.3" y="467.6" width="3" height="2.4" fill="#fff"/><rect x="604.3" y="472.6" width="3" height="2.4" fill="#fff"/><rect x="604.3" y="476.6" width="3" height="2.4" fill="#fff"/><rect x="604.3" y="480.4" width="3" height="2.4" fill="#fff"/><rect x="595.1999999999999" y="484.4" width="21.2" height="10" fill="#707070" stroke="#2e2e2e" stroke-width="1.1"/><path d="M598.8 485.5 v8 M602.3 485.5 v8 M605.8 485.5 v8 M609.3 485.5 v8 M612.8 485.5 v8" stroke="#d6d6d6" stroke-width="1.3"/><rect x="595.1999999999999" y="494.4" width="21.2" height="4" fill="#f6f6f6" stroke="#666" stroke-width="0.6"/><rect x="604.1999999999999" y="494.4" width="3.2" height="4" fill="#555"/><rect x="641.4000000000001" y="461.6" width="9.6" height="23" fill="#9e9e9e" stroke="#2e2e2e" stroke-width="1.2"/><rect x="644.7" y="463.8" width="3" height="2.4" fill="#fff"/><rect x="644.7" y="467.6" width="3" height="2.4" fill="#fff"/><rect x="644.7" y="472.6" width="3" height="2.4" fill="#fff"/><rect x="644.7" y="476.6" width="3" height="2.4" fill="#fff"/><rect x="644.7" y="480.4" width="3" height="2.4" fill="#fff"/><rect x="635.6" y="484.4" width="21.2" height="10" fill="#707070" stroke="#2e2e2e" stroke-width="1.1"/><path d="M639.2 485.5 v8 M642.7 485.5 v8 M646.2 485.5 v8 M649.7 485.5 v8 M653.2 485.5 v8" stroke="#d6d6d6" stroke-width="1.3"/><rect x="635.6" y="494.4" width="21.2" height="4" fill="#f6f6f6" stroke="#666" stroke-width="0.6"/><rect x="644.6" y="494.4" width="3.2" height="4" fill="#555"/><rect x="681.8" y="461.6" width="9.6" height="23" fill="#9e9e9e" stroke="#2e2e2e" stroke-width="1.2"/><rect x="685.0999999999999" y="463.8" width="3" height="2.4" fill="#fff"/><rect x="685.0999999999999" y="467.6" width="3" height="2.4" fill="#fff"/><rect x="685.0999999999999" y="472.6" width="3" height="2.4" fill="#fff"/><rect x="685.0999999999999" y="476.6" width="3" height="2.4" fill="#fff"/><rect x="685.0999999999999" y="480.4" width="3" height="2.4" fill="#fff"/><rect x="675.9999999999999" y="484.4" width="21.2" height="10" fill="#707070" stroke="#2e2e2e" stroke-width="1.1"/><path d="M679.5999999999999 485.5 v8 M683.0999999999999 485.5 v8 M686.5999999999999 485.5 v8 M690.0999999999999 485.5 v8 M693.5999999999999 485.5 v8" stroke="#d6d6d6" stroke-width="1.3"/><rect x="675.9999999999999" y="494.4" width="21.2" height="4" fill="#f6f6f6" stroke="#666" stroke-width="0.6"/><rect x="684.9999999999999" y="494.4" width="3.2" height="4" fill="#555"/><g transform="translate(704.8 485.2)"><rect x="0" y="0" width="11.4" height="60" fill="#e6e6e7" stroke="#444" stroke-width="1.1"/><circle cx="5.7" cy="9.5" r="3.8" fill="#e6e6e7" stroke="#333" stroke-width="0.9"/><path d="M2.6 9.5 h6.2" stroke="#333" stroke-width="1.1"/><path d="M0 15.5 h11.4 M0 28 h11.4 M0 42 h11.4" stroke="#777" stroke-width="0.6"/><circle cx="5.7" cy="20" r="1.4" fill="#222"/><circle cx="5.7" cy="35" r="1.4" fill="#222"/><path d="M3.2 53 L5 44 h1.4 L8.2 53 Z" fill="none" stroke="#555" stroke-width="0.8"/><rect x="0" y="54.5" width="11.4" height="5.5" fill="#9a9a9a" stroke="#444" stroke-width="0.8"/></g>
<rect x="716" y="494" width="29.6" height="42" rx="1.5" fill="#d9c900" stroke="#4f4500" stroke-width="1.3"/><path d="M728 494.5 v41.5 M716.5 507 h28.5 M716.5 523 h28.5" stroke="#4f4500" stroke-width="1"/><rect x="723.6" y="536" width="23.4" height="9.4" rx="1.2" fill="#d9c900" stroke="#4f4500" stroke-width="1.3"/><rect x="724.5" y="545.4" width="21.2" height="9" rx="1" fill="#d9c900" stroke="#4f4500" stroke-width="1.3"/><path d="M731 545.8 v8.4 M739.5 545.8 v8.4" stroke="#4f4500" stroke-width="1"/><rect x="726.2" y="554.4" width="18" height="4.8" rx="1" fill="#d9c900" stroke="#4f4500" stroke-width="1.3"/><path d="M716.5 457.8 h36.5 v31 q0 2.6 -2.6 2.6 h-31.3 q-2.6 0 -2.6 -2.6 z" fill="#d9c900" stroke="#4f4500" stroke-width="1.3"/><rect x="719" y="491" width="31" height="3.2" fill="#e8e8e0" stroke="#4f4500" stroke-width="0.7"/><rect x="716" y="450" width="38.5" height="7.8" rx="1.5" fill="#7d7000" stroke="#3e3800" stroke-width="1.1"/><path d="M720 450.5 v7 M724 450.5 v7 M728 450.5 v7 M732 450.5 v7 M736 450.5 v7 M740 450.5 v7 M744 450.5 v7 M748 450.5 v7" stroke="#a89a20" stroke-width="1"/><rect x="720" y="440" width="10" height="10" fill="#d9c900" stroke="#4f4500" stroke-width="1.3"/><rect x="721.5" y="434.7" width="7" height="6" rx="1" fill="#d9c900" stroke="#4f4500" stroke-width="1.3"/>
<line x1="427.6" y1="370" x2="427.6" y2="640" stroke="#1e1e1e" stroke-width="1.2"/>
<line x1="729.3" y1="431" x2="729.3" y2="640" stroke="#1e1e1e" stroke-width="1.2"/>
<use href="#valveasm" x="20.5" y="153"/>
<rect x="443.5" y="651.2" width="281.0" height="33.8" fill="#d9c900" stroke="#4f4500" stroke-width="1.3"/><path d="M437.5 652.7 q6 -3 7 0 v30.799999999999997 q-1 3 -7 0 z" fill="#d9c900" stroke="#4f4500" stroke-width="1.3"/><rect x="447.5" y="663.7" width="9" height="9" fill="#d4d4d4" stroke="#666" stroke-width="0.8"/><path d="M451.40000000000003 655.6 Q447.6 668.1 451.40000000000003 680.4 L457.6 676.8 H471.6 L477.8 680.4 Q481.6 668.1 477.8 655.6 L471.6 658.8000000000001 H457.6 Z" fill="none" stroke="#4f4500" stroke-width="1.3"/><path d="M456.20000000000005 659.0 Q453.1 668.1 456.20000000000005 676.8 M473.0 659.0 Q476.1 668.1 473.0 676.8" fill="none" stroke="#4f4500" stroke-width="1.1"/><path d="M477.8 655.6 H491.8 M477.8 680.4 H491.8" stroke="#4f4500" stroke-width="1.2"/><rect x="456.6" y="663.4" width="16" height="9.4" fill="#b5b5b5" stroke="#3a3a3a" stroke-width="1.1"/><rect x="458.6" y="665.3000000000001" width="12" height="4.6" fill="#ececec"/><path d="M462.6 668.9 h4 l-2 2z" fill="#fff"/><rect x="455.40000000000003" y="684.0" width="18.4" height="4" fill="#d9c900" stroke="#4f4500" stroke-width="1.3"/><rect x="451.6" y="687.8" width="26" height="7.8" rx="2" fill="#d9c900" stroke="#4f4500" stroke-width="1.3"/><path d="M458.8 688.0 v7.6 M470.8 688.0 v7.6" stroke="#4f4500" stroke-width="1.2"/><path d="M453.6 695.6 h22 v6 q0 3.2 -3.2 3.2 h-15.6 q-3.2 0 -3.2 -3.2 z" fill="#d9c900" stroke="#4f4500" stroke-width="1.3"/><path d="M454.1 699.0 h21" stroke="#4f4500" stroke-width="0.8"/><path d="M491.8 655.6 Q488.0 668.1 491.8 680.4 L498.0 676.8 H512.0 L518.2 680.4 Q522.0 668.1 518.2 655.6 L512.0 658.8000000000001 H498.0 Z" fill="none" stroke="#4f4500" stroke-width="1.3"/><path d="M496.6 659.0 Q493.5 668.1 496.6 676.8 M513.4 659.0 Q516.5 668.1 513.4 676.8" fill="none" stroke="#4f4500" stroke-width="1.1"/><path d="M518.2 655.6 H532.2 M518.2 680.4 H532.2" stroke="#4f4500" stroke-width="1.2"/><rect x="497.0" y="663.4" width="16" height="9.4" fill="#b5b5b5" stroke="#3a3a3a" stroke-width="1.1"/><rect x="499.0" y="665.3000000000001" width="12" height="4.6" fill="#ececec"/><path d="M503.0 668.9 h4 l-2 2z" fill="#fff"/><rect x="495.8" y="684.0" width="18.4" height="4" fill="#d9c900" stroke="#4f4500" stroke-width="1.3"/><rect x="492.0" y="687.8" width="26" height="7.8" rx="2" fill="#d9c900" stroke="#4f4500" stroke-width="1.3"/><path d="M499.2 688.0 v7.6 M511.2 688.0 v7.6" stroke="#4f4500" stroke-width="1.2"/><path d="M494.0 695.6 h22 v6 q0 3.2 -3.2 3.2 h-15.6 q-3.2 0 -3.2 -3.2 z" fill="#d9c900" stroke="#4f4500" stroke-width="1.3"/><path d="M494.5 699.0 h21" stroke="#4f4500" stroke-width="0.8"/><path d="M532.1999999999999 655.6 Q528.4 668.1 532.1999999999999 680.4 L538.4 676.8 H552.4 L558.6 680.4 Q562.4 668.1 558.6 655.6 L552.4 658.8000000000001 H538.4 Z" fill="none" stroke="#4f4500" stroke-width="1.3"/><path d="M537.0 659.0 Q533.9 668.1 537.0 676.8 M553.8 659.0 Q556.9 668.1 553.8 676.8" fill="none" stroke="#4f4500" stroke-width="1.1"/><path d="M558.6 655.6 H572.6 M558.6 680.4 H572.6" stroke="#4f4500" stroke-width="1.2"/><rect x="537.4" y="663.4" width="16" height="9.4" fill="#b5b5b5" stroke="#3a3a3a" stroke-width="1.1"/><rect x="539.4" y="665.3000000000001" width="12" height="4.6" fill="#ececec"/><path d="M543.4 668.9 h4 l-2 2z" fill="#fff"/><rect x="536.1999999999999" y="684.0" width="18.4" height="4" fill="#d9c900" stroke="#4f4500" stroke-width="1.3"/><rect x="532.4" y="687.8" width="26" height="7.8" rx="2" fill="#d9c900" stroke="#4f4500" stroke-width="1.3"/><path d="M539.6 688.0 v7.6 M551.6 688.0 v7.6" stroke="#4f4500" stroke-width="1.2"/><path d="M534.4 695.6 h22 v6 q0 3.2 -3.2 3.2 h-15.6 q-3.2 0 -3.2 -3.2 z" fill="#d9c900" stroke="#4f4500" stroke-width="1.3"/><path d="M534.9 699.0 h21" stroke="#4f4500" stroke-width="0.8"/><path d="M572.5999999999999 655.6 Q568.8 668.1 572.5999999999999 680.4 L578.8 676.8 H592.8 L599.0 680.4 Q602.8 668.1 599.0 655.6 L592.8 658.8000000000001 H578.8 Z" fill="none" stroke="#4f4500" stroke-width="1.3"/><path d="M577.4 659.0 Q574.3 668.1 577.4 676.8 M594.1999999999999 659.0 Q597.3 668.1 594.1999999999999 676.8" fill="none" stroke="#4f4500" stroke-width="1.1"/><path d="M599.0 655.6 H613.0 M599.0 680.4 H613.0" stroke="#4f4500" stroke-width="1.2"/><rect x="577.8" y="663.4" width="16" height="9.4" fill="#b5b5b5" stroke="#3a3a3a" stroke-width="1.1"/><rect x="579.8" y="665.3000000000001" width="12" height="4.6" fill="#ececec"/><path d="M583.8 668.9 h4 l-2 2z" fill="#fff"/><rect x="576.5999999999999" y="684.0" width="18.4" height="4" fill="#d9c900" stroke="#4f4500" stroke-width="1.3"/><rect x="572.8" y="687.8" width="26" height="7.8" rx="2" fill="#d9c900" stroke="#4f4500" stroke-width="1.3"/><path d="M580.0 688.0 v7.6 M592.0 688.0 v7.6" stroke="#4f4500" stroke-width="1.2"/><path d="M574.8 695.6 h22 v6 q0 3.2 -3.2 3.2 h-15.6 q-3.2 0 -3.2 -3.2 z" fill="#d9c900" stroke="#4f4500" stroke-width="1.3"/><path d="M575.3 699.0 h21" stroke="#4f4500" stroke-width="0.8"/><path d="M613.0 655.6 Q609.2 668.1 613.0 680.4 L619.2 676.8 H633.2 L639.4000000000001 680.4 Q643.2 668.1 639.4000000000001 655.6 L633.2 658.8000000000001 H619.2 Z" fill="none" stroke="#4f4500" stroke-width="1.3"/><path d="M617.8000000000001 659.0 Q614.7 668.1 617.8000000000001 676.8 M634.6 659.0 Q637.7 668.1 634.6 676.8" fill="none" stroke="#4f4500" stroke-width="1.1"/><path d="M639.4000000000001 655.6 H653.4000000000001 M639.4000000000001 680.4 H653.4000000000001" stroke="#4f4500" stroke-width="1.2"/><rect x="618.2" y="663.4" width="16" height="9.4" fill="#b5b5b5" stroke="#3a3a3a" stroke-width="1.1"/><rect x="620.2" y="665.3000000000001" width="12" height="4.6" fill="#ececec"/><path d="M624.2 668.9 h4 l-2 2z" fill="#fff"/><rect x="617.0" y="684.0" width="18.4" height="4" fill="#d9c900" stroke="#4f4500" stroke-width="1.3"/><rect x="613.2" y="687.8" width="26" height="7.8" rx="2" fill="#d9c900" stroke="#4f4500" stroke-width="1.3"/><path d="M620.4000000000001 688.0 v7.6 M632.4000000000001 688.0 v7.6" stroke="#4f4500" stroke-width="1.2"/><path d="M615.2 695.6 h22 v6 q0 3.2 -3.2 3.2 h-15.6 q-3.2 0 -3.2 -3.2 z" fill="#d9c900" stroke="#4f4500" stroke-width="1.3"/><path d="M615.7 699.0 h21" stroke="#4f4500" stroke-width="0.8"/><path d="M653.4 655.6 Q649.6 668.1 653.4 680.4 L659.6 676.8 H673.6 L679.8000000000001 680.4 Q683.6 668.1 679.8000000000001 655.6 L673.6 658.8000000000001 H659.6 Z" fill="none" stroke="#4f4500" stroke-width="1.3"/><path d="M658.2 659.0 Q655.1 668.1 658.2 676.8 M675.0 659.0 Q678.1 668.1 675.0 676.8" fill="none" stroke="#4f4500" stroke-width="1.1"/><path d="M679.8000000000001 655.6 H693.8000000000001 M679.8000000000001 680.4 H693.8000000000001" stroke="#4f4500" stroke-width="1.2"/><rect x="658.6" y="663.4" width="16" height="9.4" fill="#b5b5b5" stroke="#3a3a3a" stroke-width="1.1"/><rect x="660.6" y="665.3000000000001" width="12" height="4.6" fill="#ececec"/><path d="M664.6 668.9 h4 l-2 2z" fill="#fff"/><rect x="657.4" y="684.0" width="18.4" height="4" fill="#d9c900" stroke="#4f4500" stroke-width="1.3"/><rect x="653.6" y="687.8" width="26" height="7.8" rx="2" fill="#d9c900" stroke="#4f4500" stroke-width="1.3"/><path d="M660.8000000000001 688.0 v7.6 M672.8000000000001 688.0 v7.6" stroke="#4f4500" stroke-width="1.2"/><path d="M655.6 695.6 h22 v6 q0 3.2 -3.2 3.2 h-15.6 q-3.2 0 -3.2 -3.2 z" fill="#d9c900" stroke="#4f4500" stroke-width="1.3"/><path d="M656.1 699.0 h21" stroke="#4f4500" stroke-width="0.8"/><path d="M693.8 655.6 Q690.0 668.1 693.8 680.4 L700.0 676.8 H714.0 L720.2 680.4 Q724.0 668.1 720.2 655.6 L714.0 658.8000000000001 H700.0 Z" fill="none" stroke="#4f4500" stroke-width="1.3"/><path d="M698.6 659.0 Q695.5 668.1 698.6 676.8 M715.4 659.0 Q718.5 668.1 715.4 676.8" fill="none" stroke="#4f4500" stroke-width="1.1"/><path d="M720.2 655.6 H734.2 M720.2 680.4 H734.2" stroke="#4f4500" stroke-width="1.2"/><rect x="699.0" y="663.4" width="16" height="9.4" fill="#b5b5b5" stroke="#3a3a3a" stroke-width="1.1"/><rect x="701.0" y="665.3000000000001" width="12" height="4.6" fill="#ececec"/><path d="M705.0 668.9 h4 l-2 2z" fill="#fff"/><rect x="697.8" y="684.0" width="18.4" height="4" fill="#d9c900" stroke="#4f4500" stroke-width="1.3"/><rect x="694.0" y="687.8" width="26" height="7.8" rx="2" fill="#d9c900" stroke="#4f4500" stroke-width="1.3"/><path d="M701.2 688.0 v7.6 M713.2 688.0 v7.6" stroke="#4f4500" stroke-width="1.2"/><path d="M696.0 695.6 h22 v6 q0 3.2 -3.2 3.2 h-15.6 q-3.2 0 -3.2 -3.2 z" fill="#d9c900" stroke="#4f4500" stroke-width="1.3"/><path d="M696.5 699.0 h21" stroke="#4f4500" stroke-width="0.8"/><path d="M449.3 638 L450.6 608 Q451.20000000000005 603.4 455.6 603.2 Q464.6 602.6 473.6 603.2 Q478.0 603.4 478.6 608 L479.90000000000003 638 z" fill="#e3e3e4" stroke="#707072" stroke-width="1"/><path d="M449.70000000000005 624.2 h29.8" stroke="#6a6a6c" stroke-width="0.9"/><path d="M450.0 624.7 h29.2 v13 h-29.2 z" fill="#e9e9ea"/><rect x="451.1" y="639" width="27" height="10.6" rx="1.5" fill="#5e5e60" stroke="#2a2a2a" stroke-width="1.1"/><path d="M461.6 639.6 v9.4 M465.6 639.6 v9.4 M469.1 639.6 v9.4" stroke="#c4c4c4" stroke-width="1.4"/><path d="M455.6 639.6 v9.4 M473.6 639.6 v9.4" stroke="#7a7a7a" stroke-width="1"/><path d="M489.7 638 L491.0 608 Q491.6 603.4 496.0 603.2 Q505.0 602.6 514.0 603.2 Q518.4 603.4 519.0 608 L520.3 638 z" fill="#e3e3e4" stroke="#707072" stroke-width="1"/><path d="M490.1 624.2 h29.8" stroke="#6a6a6c" stroke-width="0.9"/><path d="M490.4 624.7 h29.2 v13 h-29.2 z" fill="#e9e9ea"/><rect x="491.5" y="639" width="27" height="10.6" rx="1.5" fill="#5e5e60" stroke="#2a2a2a" stroke-width="1.1"/><path d="M502.0 639.6 v9.4 M506.0 639.6 v9.4 M509.5 639.6 v9.4" stroke="#c4c4c4" stroke-width="1.4"/><path d="M496.0 639.6 v9.4 M514.0 639.6 v9.4" stroke="#7a7a7a" stroke-width="1"/><path d="M530.1 638 L531.4 608 Q532.0 603.4 536.4 603.2 Q545.4 602.6 554.4 603.2 Q558.8 603.4 559.4 608 L560.6999999999999 638 z" fill="#e3e3e4" stroke="#707072" stroke-width="1"/><path d="M530.5 624.2 h29.8" stroke="#6a6a6c" stroke-width="0.9"/><path d="M530.8 624.7 h29.2 v13 h-29.2 z" fill="#e9e9ea"/><rect x="531.9" y="639" width="27" height="10.6" rx="1.5" fill="#5e5e60" stroke="#2a2a2a" stroke-width="1.1"/><path d="M542.4 639.6 v9.4 M546.4 639.6 v9.4 M549.9 639.6 v9.4" stroke="#c4c4c4" stroke-width="1.4"/><path d="M536.4 639.6 v9.4 M554.4 639.6 v9.4" stroke="#7a7a7a" stroke-width="1"/><path d="M570.5 638 L571.8 608 Q572.4 603.4 576.8 603.2 Q585.8 602.6 594.8 603.2 Q599.1999999999999 603.4 599.8 608 L601.0999999999999 638 z" fill="#e3e3e4" stroke="#707072" stroke-width="1"/><path d="M570.9 624.2 h29.8" stroke="#6a6a6c" stroke-width="0.9"/><path d="M571.1999999999999 624.7 h29.2 v13 h-29.2 z" fill="#e9e9ea"/><rect x="572.3" y="639" width="27" height="10.6" rx="1.5" fill="#5e5e60" stroke="#2a2a2a" stroke-width="1.1"/><path d="M582.8 639.6 v9.4 M586.8 639.6 v9.4 M590.3 639.6 v9.4" stroke="#c4c4c4" stroke-width="1.4"/><path d="M576.8 639.6 v9.4 M594.8 639.6 v9.4" stroke="#7a7a7a" stroke-width="1"/><path d="M610.9000000000001 638 L612.2 608 Q612.8000000000001 603.4 617.2 603.2 Q626.2 602.6 635.2 603.2 Q639.6 603.4 640.2 608 L641.5 638 z" fill="#e3e3e4" stroke="#707072" stroke-width="1"/><path d="M611.3000000000001 624.2 h29.8" stroke="#6a6a6c" stroke-width="0.9"/><path d="M611.6 624.7 h29.2 v13 h-29.2 z" fill="#e9e9ea"/><rect x="612.7" y="639" width="27" height="10.6" rx="1.5" fill="#5e5e60" stroke="#2a2a2a" stroke-width="1.1"/><path d="M623.2 639.6 v9.4 M627.2 639.6 v9.4 M630.7 639.6 v9.4" stroke="#c4c4c4" stroke-width="1.4"/><path d="M617.2 639.6 v9.4 M635.2 639.6 v9.4" stroke="#7a7a7a" stroke-width="1"/><path d="M651.3000000000001 638 L652.6 608 Q653.2 603.4 657.6 603.2 Q666.6 602.6 675.6 603.2 Q680.0 603.4 680.6 608 L681.9 638 z" fill="#e3e3e4" stroke="#707072" stroke-width="1"/><path d="M651.7 624.2 h29.8" stroke="#6a6a6c" stroke-width="0.9"/><path d="M652.0 624.7 h29.2 v13 h-29.2 z" fill="#e9e9ea"/><rect x="653.1" y="639" width="27" height="10.6" rx="1.5" fill="#5e5e60" stroke="#2a2a2a" stroke-width="1.1"/><path d="M663.6 639.6 v9.4 M667.6 639.6 v9.4 M671.1 639.6 v9.4" stroke="#c4c4c4" stroke-width="1.4"/><path d="M657.6 639.6 v9.4 M675.6 639.6 v9.4" stroke="#7a7a7a" stroke-width="1"/><path d="M691.7 638 L693.0 608 Q693.6 603.4 698.0 603.2 Q707.0 602.6 716.0 603.2 Q720.4 603.4 721.0 608 L722.3 638 z" fill="#e3e3e4" stroke="#707072" stroke-width="1"/><path d="M692.1 624.2 h29.8" stroke="#6a6a6c" stroke-width="0.9"/><path d="M692.4 624.7 h29.2 v13 h-29.2 z" fill="#e9e9ea"/><rect x="693.5" y="639" width="27" height="10.6" rx="1.5" fill="#5e5e60" stroke="#2a2a2a" stroke-width="1.1"/><path d="M704.0 639.6 v9.4 M708.0 639.6 v9.4 M711.5 639.6 v9.4" stroke="#c4c4c4" stroke-width="1.4"/><path d="M698.0 639.6 v9.4 M716.0 639.6 v9.4" stroke="#7a7a7a" stroke-width="1"/><g transform="translate(726 637.5)"><rect x="0" y="0" width="11.4" height="60" fill="#e6e6e7" stroke="#444" stroke-width="1.1"/><circle cx="5.7" cy="9.5" r="3.8" fill="#e6e6e7" stroke="#333" stroke-width="0.9"/><path d="M2.6 9.5 h6.2" stroke="#333" stroke-width="1.1"/><path d="M0 15.5 h11.4 M0 28 h11.4 M0 42 h11.4" stroke="#777" stroke-width="0.6"/><circle cx="5.7" cy="20" r="1.4" fill="#222"/><circle cx="5.7" cy="35" r="1.4" fill="#222"/><path d="M3.2 53 L5 44 h1.4 L8.2 53 Z" fill="none" stroke="#555" stroke-width="0.8"/><rect x="0" y="54.5" width="11.4" height="5.5" fill="#9a9a9a" stroke="#444" stroke-width="0.8"/></g>
<path d="M734.5 558 C734.5 583 756 583 756 616" fill="none" stroke="#7a5018" stroke-width="10.4"/>
<path d="M734.5 558 C734.5 583 756 583 756 616" fill="none" stroke="#eba050" stroke-width="8"/>
<rect x="749" y="626" width="14.2" height="21" fill="#d9c900" stroke="#4f4500" stroke-width="1.3"/><path d="M749.5 636 h13 M752 641 h8" stroke="#4f4500" stroke-width="0.8"/><rect x="744" y="615.6" width="24" height="10.8" rx="2" fill="#d9c900" stroke="#4f4500" stroke-width="1.3"/><path d="M750 616 v10 M762 616 v10" stroke="#4f4500" stroke-width="0.9"/><rect x="748.4" y="688.5" width="16.4" height="25.5" fill="#d9c900" stroke="#4f4500" stroke-width="1.3"/><path d="M748.8 692.5 h15.6" stroke="#4f4500" stroke-width="0.9"/><circle cx="756.6" cy="704.4" r="5.8" fill="#d9c900" stroke="#4f4500" stroke-width="1.3"/><path d="M752.8 700.4 l7.6 8" stroke="#4f4500" stroke-width="1.4"/><rect x="738" y="646.8" width="29" height="42" rx="1.5" fill="#d9c900" stroke="#4f4500" stroke-width="1.3"/><path d="M746 647 v42 M738.5 660 h28.5 M738.5 676 h28.5" stroke="#4f4500" stroke-width="0.9"/><rect x="741.6" y="714" width="28.8" height="9.6" rx="1.5" fill="#d9c900" stroke="#4f4500" stroke-width="1.3"/><path d="M745 714.5 v9 M748 714.5 v9 M751 714.5 v9 M754 714.5 v9 M757 714.5 v9 M760 714.5 v9 M763 714.5 v9 M766 714.5 v9" stroke="#7d7000" stroke-width="0.9"/><path d="M750 723.6 h12 l2 4 l-2 1 l2 4 l-2 1 l2 4 l-2 1 l1.5 4 q0 2 -2 2 h-11 q-2 0 -2 -2 l1.5 -4 l-2 -1 l2 -4 l-2 -1 l2 -4 l-2 -1 z" fill="#d9c900" stroke="#4f4500" stroke-width="1.3"/><path d="M768 714 C786 706 802 714 793.5 744" fill="none" stroke="#555" stroke-width="1"/><rect x="790" y="750" width="10" height="10" fill="#e0e0e0" stroke="#555" stroke-width="0.9"/><rect x="779" y="744" width="12" height="24" rx="2" fill="#e6e6e6" stroke="#555" stroke-width="1"/><path d="M783 744 v-3 q2 -2 4 0 v3 M783 768 v3 q2 2 4 0 v-3" fill="#e6e6e6" stroke="#555" stroke-width="0.9"/>
<g><g><rect x="308" y="346.2" width="4.6" height="21.2" fill="#d4d4d4" stroke="#444" stroke-width="0.9"/><path d="M292.2 349 h8 l4.5 7.5 l-4.5 8 h-8 z" fill="#d4d4d4" stroke="#333" stroke-width="1"/><circle cx="297.6" cy="356.6" r="3.2" fill="#9a9a9a"/><path d="M299.5 349 l3.5 -2 l4.5 8.5 l-3 1.2 z M299.5 364.5 l3.5 2 l4.5 -8.5 l-3 -1.2 z" fill="#d8d8d8" stroke="#333" stroke-width="0.9"/><circle cx="305.5" cy="356.6" r="2.6" fill="#333"/></g><g transform="translate(810.6 0) scale(-1 1)"><rect x="308" y="346.2" width="4.6" height="21.2" fill="#d4d4d4" stroke="#444" stroke-width="0.9"/><path d="M292.2 349 h8 l4.5 7.5 l-4.5 8 h-8 z" fill="#d4d4d4" stroke="#333" stroke-width="1"/><circle cx="297.6" cy="356.6" r="3.2" fill="#9a9a9a"/><path d="M299.5 349 l3.5 -2 l4.5 8.5 l-3 1.2 z M299.5 364.5 l3.5 2 l4.5 -8.5 l-3 -1.2 z" fill="#d8d8d8" stroke="#333" stroke-width="0.9"/><circle cx="305.5" cy="356.6" r="2.6" fill="#333"/></g><rect x="312.4" y="339.4" width="186" height="30.4" fill="#f6f4ea" stroke="#2a2a2a" stroke-width="1.6"/><rect x="315.6" y="341.6" width="181" height="8.9" fill="#f6f4ea" stroke="#2a2a2a" stroke-width="1.4"/><circle cx="320" cy="345.9" r="2.3" fill="#2d6c47" stroke="#123" stroke-width="0.5"/><rect x="324.5" y="342.5" width="5" height="7" fill="#333"/><circle cx="343.7" cy="345.9" r="2.2" fill="#2d6c47"/><circle cx="349" cy="345.9" r="2.1" fill="#222"/><circle cx="483.8" cy="345.9" r="2.2" fill="#2a3a30"/><circle cx="488.6" cy="345.9" r="2.1" fill="#8a2434"/><line x1="358.6" y1="350.5" x2="358.6" y2="369" stroke="#555048" stroke-width="1.2"/><path d="M353.6 367.6 h3" stroke="#999" stroke-width="0.8"/><line x1="374.8" y1="350.5" x2="374.8" y2="369" stroke="#555048" stroke-width="1.2"/><path d="M369.8 367.6 h3" stroke="#999" stroke-width="0.8"/><line x1="392.0" y1="350.5" x2="392.0" y2="369" stroke="#555048" stroke-width="1.2"/><path d="M387.0 367.6 h3" stroke="#999" stroke-width="0.8"/><line x1="407.6" y1="350.5" x2="407.6" y2="369" stroke="#555048" stroke-width="1.2"/><path d="M402.6 367.6 h3" stroke="#999" stroke-width="0.8"/><line x1="422.3" y1="350.5" x2="422.3" y2="369" stroke="#555048" stroke-width="1.2"/><path d="M417.3 367.6 h3" stroke="#999" stroke-width="0.8"/><line x1="439.1" y1="350.5" x2="439.1" y2="369" stroke="#555048" stroke-width="1.2"/><path d="M434.1 367.6 h3" stroke="#999" stroke-width="0.8"/><line x1="455.3" y1="350.5" x2="455.3" y2="369" stroke="#555048" stroke-width="1.2"/><path d="M450.3 367.6 h3" stroke="#999" stroke-width="0.8"/><line x1="471.0" y1="350.5" x2="471.0" y2="369" stroke="#555048" stroke-width="1.2"/><path d="M466.0 367.6 h3" stroke="#999" stroke-width="0.8"/><circle cx="320" cy="361.5" r="2.4" fill="#777"/><circle cx="494.8" cy="361.5" r="1.8" fill="#666"/><g fill="#555"><circle cx="321.5" cy="354.3" r="1.3"/><rect x="323.5" y="353" width="12" height="2.6"/><rect x="325" y="358" width="7" height="1"/><rect x="325" y="360" width="6" height="1"/><rect x="333" y="361" width="6" height="1"/><rect x="336" y="363.5" width="3" height="1"/><rect x="336" y="366" width="5" height="1"/></g><text x="318.6" y="368.2" font-family="Liberation Sans" font-weight="bold" font-size="6" fill="#333">CE</text><rect x="326.5" y="362.5" width="5" height="5" fill="none" stroke="#555" stroke-width="0.8"/><rect x="315" y="369.8" width="180.7" height="28.9" fill="#f6f4ea" stroke="#2a2a2a" stroke-width="1.6"/><rect x="329.4" y="373.2" width="6" height="23" fill="#3b3b3b"/><rect x="335.4" y="374.5" width="2" height="1.6" fill="#444"/><rect x="335.4" y="378.9" width="2" height="1.6" fill="#444"/><rect x="335.4" y="383.3" width="2" height="1.6" fill="#444"/><rect x="335.4" y="387.7" width="2" height="1.6" fill="#444"/><rect x="335.4" y="392.1" width="2" height="1.6" fill="#444"/><path d="M337 377 h6 M337 381 h4 v4 h4 M337 389 h5 v3 h4 M337 394 h6" stroke="#555" stroke-width="0.8" fill="none"/><path d="M452 372.4 h38" stroke="#777" stroke-width="0.6"/><rect x="350.2" y="374.6" width="6.4" height="17.2" fill="none" stroke="#666" stroke-width="0.6"/><path d="M351.4 376.2 v4 M351.4 378 h3.4 M354.79999999999995 377 v2.4" stroke="#333" stroke-width="0.9"/><path d="M351.0 387 l1.3 2 l2.6 -4.6 v5.2" stroke="#333" stroke-width="0.8" fill="none"/><rect x="356.4" y="374.4" width="8" height="18.6" rx="0.6" fill="#353535"/><rect x="357.9" y="392.6" width="5" height="1.8" rx="0.6" fill="#353535"/><rect x="357.29999999999995" y="375.4" width="3.6" height="16.4" fill="#9c9c9c"/><rect x="357.29999999999995" y="376.6" width="3.6" height="0.8" fill="#444"/><circle cx="362.59999999999997" cy="377.0" r="0.75" fill="#ddd"/><rect x="357.29999999999995" y="379.8" width="3.6" height="0.8" fill="#444"/><circle cx="362.59999999999997" cy="380.3" r="0.75" fill="#ddd"/><rect x="357.29999999999995" y="383.0" width="3.6" height="0.8" fill="#444"/><circle cx="362.59999999999997" cy="383.6" r="0.75" fill="#ddd"/><rect x="357.29999999999995" y="386.2" width="3.6" height="0.8" fill="#444"/><circle cx="362.59999999999997" cy="386.9" r="0.75" fill="#ddd"/><rect x="357.29999999999995" y="389.4" width="3.6" height="0.8" fill="#444"/><circle cx="362.59999999999997" cy="390.2" r="0.75" fill="#ddd"/><rect x="366.2" y="374.6" width="6.4" height="17.2" fill="none" stroke="#666" stroke-width="0.6"/><path d="M367.4 376.2 v4 M367.4 378 h3.4 M370.79999999999995 377 v2.4" stroke="#333" stroke-width="0.9"/><path d="M367.0 387 l1.3 2 l2.6 -4.6 v5.2" stroke="#333" stroke-width="0.8" fill="none"/><rect x="372.4" y="374.4" width="8" height="18.6" rx="0.6" fill="#353535"/><rect x="373.9" y="392.6" width="5" height="1.8" rx="0.6" fill="#353535"/><rect x="373.29999999999995" y="375.4" width="3.6" height="16.4" fill="#9c9c9c"/><rect x="373.29999999999995" y="376.6" width="3.6" height="0.8" fill="#444"/><circle cx="378.59999999999997" cy="377.0" r="0.75" fill="#ddd"/><rect x="373.29999999999995" y="379.8" width="3.6" height="0.8" fill="#444"/><circle cx="378.59999999999997" cy="380.3" r="0.75" fill="#ddd"/><rect x="373.29999999999995" y="383.0" width="3.6" height="0.8" fill="#444"/><circle cx="378.59999999999997" cy="383.6" r="0.75" fill="#ddd"/><rect x="373.29999999999995" y="386.2" width="3.6" height="0.8" fill="#444"/><circle cx="378.59999999999997" cy="386.9" r="0.75" fill="#ddd"/><rect x="373.29999999999995" y="389.4" width="3.6" height="0.8" fill="#444"/><circle cx="378.59999999999997" cy="390.2" r="0.75" fill="#ddd"/><rect x="382.2" y="374.6" width="6.4" height="17.2" fill="none" stroke="#666" stroke-width="0.6"/><path d="M383.4 376.2 v4 M383.4 378 h3.4 M386.79999999999995 377 v2.4" stroke="#333" stroke-width="0.9"/><path d="M383.0 387 l1.3 2 l2.6 -4.6 v5.2" stroke="#333" stroke-width="0.8" fill="none"/><rect x="388.4" y="374.4" width="8" height="18.6" rx="0.6" fill="#353535"/><rect x="389.9" y="392.6" width="5" height="1.8" rx="0.6" fill="#353535"/><rect x="389.29999999999995" y="375.4" width="3.6" height="16.4" fill="#9c9c9c"/><rect x="389.29999999999995" y="376.6" width="3.6" height="0.8" fill="#444"/><circle cx="394.59999999999997" cy="377.0" r="0.75" fill="#ddd"/><rect x="389.29999999999995" y="379.8" width="3.6" height="0.8" fill="#444"/><circle cx="394.59999999999997" cy="380.3" r="0.75" fill="#ddd"/><rect x="389.29999999999995" y="383.0" width="3.6" height="0.8" fill="#444"/><circle cx="394.59999999999997" cy="383.6" r="0.75" fill="#ddd"/><rect x="389.29999999999995" y="386.2" width="3.6" height="0.8" fill="#444"/><circle cx="394.59999999999997" cy="386.9" r="0.75" fill="#ddd"/><rect x="389.29999999999995" y="389.4" width="3.6" height="0.8" fill="#444"/><circle cx="394.59999999999997" cy="390.2" r="0.75" fill="#ddd"/><rect x="398.2" y="374.6" width="6.4" height="17.2" fill="none" stroke="#666" stroke-width="0.6"/><path d="M399.4 376.2 v4 M399.4 378 h3.4 M402.79999999999995 377 v2.4" stroke="#333" stroke-width="0.9"/><path d="M399.0 387 l1.3 2 l2.6 -4.6 v5.2" stroke="#333" stroke-width="0.8" fill="none"/><rect x="404.4" y="374.4" width="8" height="18.6" rx="0.6" fill="#353535"/><rect x="405.9" y="392.6" width="5" height="1.8" rx="0.6" fill="#353535"/><rect x="405.29999999999995" y="375.4" width="3.6" height="16.4" fill="#9c9c9c"/><rect x="405.29999999999995" y="376.6" width="3.6" height="0.8" fill="#444"/><circle cx="410.59999999999997" cy="377.0" r="0.75" fill="#ddd"/><rect x="405.29999999999995" y="379.8" width="3.6" height="0.8" fill="#444"/><circle cx="410.59999999999997" cy="380.3" r="0.75" fill="#ddd"/><rect x="405.29999999999995" y="383.0" width="3.6" height="0.8" fill="#444"/><circle cx="410.59999999999997" cy="383.6" r="0.75" fill="#ddd"/><rect x="405.29999999999995" y="386.2" width="3.6" height="0.8" fill="#444"/><circle cx="410.59999999999997" cy="386.9" r="0.75" fill="#ddd"/><rect x="405.29999999999995" y="389.4" width="3.6" height="0.8" fill="#444"/><circle cx="410.59999999999997" cy="390.2" r="0.75" fill="#ddd"/><rect x="414.2" y="374.6" width="6.4" height="17.2" fill="none" stroke="#666" stroke-width="0.6"/><path d="M415.4 376.2 v4 M415.4 378 h3.4 M418.79999999999995 377 v2.4" stroke="#333" stroke-width="0.9"/><path d="M415.0 387 l1.3 2 l2.6 -4.6 v5.2" stroke="#333" stroke-width="0.8" fill="none"/><rect x="420.4" y="374.4" width="8" height="18.6" rx="0.6" fill="#353535"/><rect x="421.9" y="392.6" width="5" height="1.8" rx="0.6" fill="#353535"/><rect x="421.29999999999995" y="375.4" width="3.6" height="16.4" fill="#9c9c9c"/><rect x="421.29999999999995" y="376.6" width="3.6" height="0.8" fill="#444"/><circle cx="426.59999999999997" cy="377.0" r="0.75" fill="#ddd"/><rect x="421.29999999999995" y="379.8" width="3.6" height="0.8" fill="#444"/><circle cx="426.59999999999997" cy="380.3" r="0.75" fill="#ddd"/><rect x="421.29999999999995" y="383.0" width="3.6" height="0.8" fill="#444"/><circle cx="426.59999999999997" cy="383.6" r="0.75" fill="#ddd"/><rect x="421.29999999999995" y="386.2" width="3.6" height="0.8" fill="#444"/><circle cx="426.59999999999997" cy="386.9" r="0.75" fill="#ddd"/><rect x="421.29999999999995" y="389.4" width="3.6" height="0.8" fill="#444"/><circle cx="426.59999999999997" cy="390.2" r="0.75" fill="#ddd"/><rect x="430.2" y="374.6" width="6.4" height="17.2" fill="none" stroke="#666" stroke-width="0.6"/><path d="M431.4 376.2 v4 M431.4 378 h3.4 M434.79999999999995 377 v2.4" stroke="#333" stroke-width="0.9"/><path d="M431.0 387 l1.3 2 l2.6 -4.6 v5.2" stroke="#333" stroke-width="0.8" fill="none"/><rect x="436.4" y="374.4" width="8" height="18.6" rx="0.6" fill="#353535"/><rect x="437.9" y="392.6" width="5" height="1.8" rx="0.6" fill="#353535"/><rect x="437.29999999999995" y="375.4" width="3.6" height="16.4" fill="#9c9c9c"/><rect x="437.29999999999995" y="376.6" width="3.6" height="0.8" fill="#444"/><circle cx="442.59999999999997" cy="377.0" r="0.75" fill="#ddd"/><rect x="437.29999999999995" y="379.8" width="3.6" height="0.8" fill="#444"/><circle cx="442.59999999999997" cy="380.3" r="0.75" fill="#ddd"/><rect x="437.29999999999995" y="383.0" width="3.6" height="0.8" fill="#444"/><circle cx="442.59999999999997" cy="383.6" r="0.75" fill="#ddd"/><rect x="437.29999999999995" y="386.2" width="3.6" height="0.8" fill="#444"/><circle cx="442.59999999999997" cy="386.9" r="0.75" fill="#ddd"/><rect x="437.29999999999995" y="389.4" width="3.6" height="0.8" fill="#444"/><circle cx="442.59999999999997" cy="390.2" r="0.75" fill="#ddd"/><rect x="446.2" y="374.6" width="6.4" height="17.2" fill="none" stroke="#666" stroke-width="0.6"/><path d="M447.4 376.2 v4 M447.4 378 h3.4 M450.79999999999995 377 v2.4" stroke="#333" stroke-width="0.9"/><path d="M447.0 387 l1.3 2 l2.6 -4.6 v5.2" stroke="#333" stroke-width="0.8" fill="none"/><rect x="452.4" y="374.4" width="8" height="18.6" rx="0.6" fill="#353535"/><rect x="453.9" y="392.6" width="5" height="1.8" rx="0.6" fill="#353535"/><rect x="453.29999999999995" y="375.4" width="3.6" height="16.4" fill="#9c9c9c"/><rect x="453.29999999999995" y="376.6" width="3.6" height="0.8" fill="#444"/><circle cx="458.59999999999997" cy="377.0" r="0.75" fill="#ddd"/><rect x="453.29999999999995" y="379.8" width="3.6" height="0.8" fill="#444"/><circle cx="458.59999999999997" cy="380.3" r="0.75" fill="#ddd"/><rect x="453.29999999999995" y="383.0" width="3.6" height="0.8" fill="#444"/><circle cx="458.59999999999997" cy="383.6" r="0.75" fill="#ddd"/><rect x="453.29999999999995" y="386.2" width="3.6" height="0.8" fill="#444"/><circle cx="458.59999999999997" cy="386.9" r="0.75" fill="#ddd"/><rect x="453.29999999999995" y="389.4" width="3.6" height="0.8" fill="#444"/><circle cx="458.59999999999997" cy="390.2" r="0.75" fill="#ddd"/><rect x="462.2" y="374.6" width="6.4" height="17.2" fill="none" stroke="#666" stroke-width="0.6"/><path d="M463.4 376.2 v4 M463.4 378 h3.4 M466.79999999999995 377 v2.4" stroke="#333" stroke-width="0.9"/><path d="M463.0 387 l1.3 2 l2.6 -4.6 v5.2" stroke="#333" stroke-width="0.8" fill="none"/><rect x="468.4" y="374.4" width="8" height="18.6" rx="0.6" fill="#353535"/><rect x="469.9" y="392.6" width="5" height="1.8" rx="0.6" fill="#353535"/><rect x="469.29999999999995" y="375.4" width="3.6" height="16.4" fill="#9c9c9c"/><rect x="469.29999999999995" y="376.6" width="3.6" height="0.8" fill="#444"/><circle cx="474.59999999999997" cy="377.0" r="0.75" fill="#ddd"/><rect x="469.29999999999995" y="379.8" width="3.6" height="0.8" fill="#444"/><circle cx="474.59999999999997" cy="380.3" r="0.75" fill="#ddd"/><rect x="469.29999999999995" y="383.0" width="3.6" height="0.8" fill="#444"/><circle cx="474.59999999999997" cy="383.6" r="0.75" fill="#ddd"/><rect x="469.29999999999995" y="386.2" width="3.6" height="0.8" fill="#444"/><circle cx="474.59999999999997" cy="386.9" r="0.75" fill="#ddd"/><rect x="469.29999999999995" y="389.4" width="3.6" height="0.8" fill="#444"/><circle cx="474.59999999999997" cy="390.2" r="0.75" fill="#ddd"/><path d="M485 374 q3 -2 5 1 v6 h2 v8 h-8 v-8 h2 z" fill="#ddd" stroke="#333" stroke-width="0.8"/></g>
<line x1="427.6" y1="369" x2="427.6" y2="399" stroke="#1e1e1e" stroke-width="1.2"/>
<path d="M280.50 192.00 C280.67 194.67 280.77 197.19 281.00 200.00 C281.26 203.15 281.35 206.70 282.00 210.00 C282.67 213.37 283.84 216.69 285.00 220.00 C286.17 223.36 287.52 226.70 289.00 230.00 C290.51 233.37 292.19 236.70 294.00 240.00 C295.85 243.37 297.93 246.69 300.00 250.00 C302.09 253.35 304.33 256.67 306.50 260.00 C308.67 263.33 310.63 266.72 313.00 270.00 C315.45 273.39 318.27 276.26 321.00 280.00 C324.24 284.43 327.81 289.96 331.00 295.00 C334.14 299.96 337.15 304.96 340.00 310.00 C342.81 314.96 345.64 319.93 348.00 325.00 C350.30 329.94 352.42 335.47 354.00 340.00 C355.27 343.64 356.18 346.49 357.00 350.00 C357.88 353.79 358.66 358.53 359.00 362.00 C359.26 364.64 359.13 366.67 359.20 369.00" fill="none" stroke="#cf2437" stroke-width="1.9" stroke-linecap="round"/>
<path d="M496.50 192.00 C496.33 194.67 496.30 197.19 496.00 200.00 C495.67 203.15 495.32 206.70 494.50 210.00 C493.66 213.37 492.53 216.74 491.00 220.00 C489.40 223.42 487.27 226.74 485.00 230.00 C482.63 233.42 479.80 236.71 477.00 240.00 C474.14 243.38 471.34 246.78 468.00 250.00 C464.40 253.47 460.26 256.36 456.00 260.00 C451.03 264.25 445.69 269.24 440.00 274.00 C433.76 279.22 426.46 284.16 420.00 290.00 C413.24 296.11 405.48 304.35 400.40 310.00 C396.91 313.88 394.49 316.84 392.00 320.20 C389.75 323.24 387.76 326.27 386.00 329.20 C384.41 331.85 383.03 334.26 381.80 337.00 C380.52 339.85 379.51 342.83 378.50 346.00 C377.40 349.46 376.09 353.22 375.50 357.00 C374.90 360.88 375.17 365.00 375.00 369.00" fill="none" stroke="#22a6de" stroke-width="1.9" stroke-linecap="round"/>
<path d="M712.00 192.00 C711.33 195.33 711.06 198.92 710.00 202.00 C709.01 204.89 707.76 207.55 706.00 210.00 C704.14 212.58 702.05 214.47 699.00 217.00 C694.34 220.87 686.55 226.15 680.00 230.00 C673.54 233.80 666.73 236.98 660.00 240.00 C653.39 242.97 646.67 245.33 640.00 248.00 C633.33 250.67 626.69 253.49 620.00 256.00 C613.36 258.49 607.87 260.59 600.00 263.00 C589.01 266.36 573.33 270.00 560.00 273.50 C546.67 277.00 533.28 280.10 520.00 284.00 C506.61 287.93 490.99 293.02 480.00 297.00 C472.13 299.85 466.59 301.98 460.00 305.00 C453.26 308.09 445.80 312.30 440.00 315.40 C435.48 317.82 431.96 319.63 428.00 322.00 C423.95 324.42 419.60 326.98 416.00 329.80 C412.66 332.41 409.60 335.34 407.00 338.20 C404.68 340.75 402.94 343.45 401.00 346.00 C399.14 348.44 396.96 350.64 395.60 353.20 C394.30 355.65 393.50 358.35 392.90 361.00 C392.31 363.62 392.30 366.33 392.00 369.00" fill="none" stroke="#c7822b" stroke-width="1.9" stroke-linecap="round"/>
<path d="M926.50 192.00 C926.00 195.83 926.17 200.18 925.00 203.50 C923.98 206.39 922.48 208.54 920.40 211.00 C917.79 214.07 914.02 217.55 910.00 220.00 C905.65 222.65 900.00 224.00 895.00 226.00 C890.00 228.00 885.02 230.13 880.00 232.00 C875.02 233.86 870.02 235.58 865.00 237.20 C860.02 238.81 855.89 240.15 850.00 241.70 C841.75 243.87 830.04 246.61 820.00 248.50 C810.03 250.37 801.72 251.29 790.00 253.00 C773.44 255.42 750.75 258.27 730.00 261.50 C707.54 265.00 682.45 269.79 660.00 273.40 C639.25 276.74 617.71 279.57 600.00 282.50 C585.88 284.83 574.99 287.10 562.00 289.30 C548.36 291.61 531.35 293.30 520.00 296.00 C512.02 297.90 506.66 300.23 500.00 302.40 C493.33 304.57 486.63 306.58 480.00 309.00 C473.30 311.44 466.61 314.06 460.00 317.00 C453.28 319.99 445.76 323.67 440.00 326.80 C435.43 329.28 431.61 331.38 428.00 334.00 C424.67 336.41 421.60 339.14 419.00 341.80 C416.69 344.16 414.62 346.44 413.00 349.00 C411.45 351.45 410.26 354.20 409.40 356.80 C408.61 359.20 408.19 361.81 407.90 364.00 C407.66 365.81 407.70 367.33 407.60 369.00" fill="none" stroke="#1b9c5c" stroke-width="1.9" stroke-linecap="round"/>
<path d="M359.00 392.00 C359.17 394.67 359.20 397.19 359.50 400.00 C359.83 403.15 359.98 407.05 361.00 410.00 C361.91 412.64 363.44 414.95 365.00 417.00 C366.46 418.92 367.90 420.48 370.00 422.00 C372.64 423.91 376.44 425.65 380.00 427.00 C383.75 428.42 387.35 429.53 392.00 430.20 C398.19 431.10 408.78 429.72 414.00 430.80 C417.06 431.43 418.86 432.27 421.00 433.60 C423.21 434.98 425.13 436.83 427.00 439.00 C429.17 441.51 430.97 444.75 433.00 448.00 C435.30 451.68 437.76 455.72 440.00 460.00 C442.44 464.67 444.52 470.03 447.00 475.00 C449.51 480.03 452.74 485.23 455.00 490.00 C456.98 494.17 458.46 497.54 460.00 502.00 C461.85 507.34 463.37 513.83 465.00 520.00 C466.71 526.48 468.50 533.32 470.00 540.00 C471.50 546.65 472.67 553.33 474.00 560.00 C475.33 566.67 476.83 573.32 478.00 580.00 C479.16 586.65 480.17 593.32 481.00 600.00 C481.83 606.66 482.48 613.92 483.00 620.00 C483.44 625.08 483.67 629.33 484.00 634.00 Q484.3 639 479.5 639" fill="none" stroke="#cf2437" stroke-width="1.9" stroke-linecap="round"/>
<path d="M374.00 392.00 C374.17 394.67 374.20 397.19 374.50 400.00 C374.83 403.15 374.88 406.96 376.00 410.00 C377.09 412.94 378.74 415.86 381.00 418.00 C383.36 420.24 386.82 421.83 390.00 423.00 C393.16 424.16 395.72 424.54 400.00 425.00 C407.46 425.80 423.81 424.46 431.00 425.50 C434.95 426.07 437.01 426.71 440.00 428.00 C443.34 429.44 446.78 431.62 450.00 434.00 C453.46 436.56 456.78 439.66 460.00 443.00 C463.47 446.60 466.78 450.68 470.00 455.00 C473.46 459.64 477.46 465.41 480.00 470.00 C481.98 473.58 482.99 476.30 484.50 480.00 C486.32 484.47 488.08 489.63 490.00 495.00 C492.21 501.18 494.77 507.92 497.00 515.00 C499.46 522.83 501.72 532.14 504.00 540.00 C506.04 547.05 508.16 553.31 510.00 560.00 C511.83 566.65 513.33 573.33 515.00 580.00 C516.67 586.67 518.66 593.30 520.00 600.00 C521.32 606.63 522.22 613.92 523.00 620.00 C523.65 625.07 524.00 629.33 524.50 634.00 Q524.8 639 520.0 639" fill="none" stroke="#22a6de" stroke-width="1.9" stroke-linecap="round"/>
<path d="M374.00 392.00 C374.33 394.67 374.48 397.44 375.00 400.00 C375.50 402.43 375.92 404.76 377.00 407.00 C378.18 409.44 379.90 412.03 382.00 414.00 C384.20 416.06 387.08 417.76 390.00 419.00 C393.05 420.30 395.24 420.89 400.00 421.50 C411.30 422.94 445.94 420.95 458.00 422.00 C463.52 422.48 466.30 422.64 470.00 424.00 C473.62 425.33 476.81 427.51 480.00 430.00 C483.51 432.74 486.75 436.44 490.00 440.00 C493.42 443.75 496.81 447.59 500.00 452.00 C503.51 456.84 506.82 463.07 510.00 468.00 C512.78 472.31 515.12 475.45 518.00 480.00 C521.66 485.78 526.62 493.20 530.00 500.00 C533.24 506.54 535.49 513.31 538.00 520.00 C540.49 526.64 542.83 533.31 545.00 540.00 C547.16 546.64 549.16 553.31 551.00 560.00 C552.83 566.65 554.33 573.33 556.00 580.00 C557.67 586.67 559.83 593.29 561.00 600.00 C562.15 606.62 562.37 613.93 563.00 620.00 C563.53 625.08 564.00 629.33 564.50 634.00 Q564.8 639 560.0 639" fill="none" stroke="#22a6de" stroke-width="1.9" stroke-linecap="round"/>
<path d="M391.00 392.00 C391.67 395.67 391.84 399.83 393.00 403.00 C393.98 405.69 395.10 408.12 397.00 410.00 C399.02 412.01 401.80 413.43 405.00 414.50 C409.11 415.87 413.19 416.05 420.00 416.50 C434.33 417.45 473.38 415.20 487.00 416.50 C493.05 417.08 496.07 417.50 500.00 419.00 C503.69 420.41 506.74 422.73 510.00 425.00 C513.42 427.37 516.82 429.88 520.00 433.00 C523.52 436.45 526.62 441.12 530.00 445.00 C533.29 448.78 536.92 452.32 540.00 456.00 C542.89 459.46 545.45 462.62 548.00 466.40 C550.80 470.55 553.41 475.24 556.00 480.00 C558.76 485.07 561.33 490.67 564.00 496.00 C566.67 501.33 569.26 505.86 572.00 512.00 C575.55 519.97 579.72 531.84 583.00 540.00 C585.57 546.38 587.94 550.83 590.00 557.00 C592.35 564.02 594.11 572.60 596.00 580.00 C597.76 586.89 599.66 593.30 601.00 600.00 C602.32 606.63 603.33 613.91 604.00 620.00 C604.56 625.07 604.67 629.33 605.00 634.00 Q605.3 639 600.5 639" fill="none" stroke="#c7822b" stroke-width="1.9" stroke-linecap="round"/>
<path d="M391.00 392.00 C391.67 395.00 391.89 398.39 393.00 401.00 C393.98 403.31 395.00 405.36 397.00 407.00 C399.57 409.10 404.18 410.58 408.00 411.50 C411.84 412.42 413.99 412.25 420.00 412.50 C438.10 413.25 511.53 410.54 529.00 412.50 C534.62 413.13 536.56 413.48 540.00 415.00 C543.58 416.59 546.78 419.30 550.00 422.00 C553.47 424.91 556.63 428.92 560.00 432.00 C563.17 434.89 566.53 436.71 569.60 440.00 C573.26 443.92 576.80 449.79 580.00 454.40 C582.88 458.55 585.33 462.40 588.00 466.40 C590.67 470.40 593.39 474.24 596.00 478.40 C598.73 482.75 601.36 487.39 604.00 492.00 C606.70 496.72 609.67 501.42 612.00 506.40 C614.34 511.42 616.21 516.57 618.00 522.00 C619.90 527.74 621.22 533.85 623.00 540.00 C624.88 546.50 627.00 553.33 629.00 560.00 C631.00 566.67 633.16 573.31 635.00 580.00 C636.83 586.65 638.50 593.32 640.00 600.00 C641.50 606.65 643.07 613.91 644.00 620.00 C644.78 625.06 645.00 629.33 645.50 634.00 Q645.8 639 641.0 639" fill="none" stroke="#c7822b" stroke-width="1.9" stroke-linecap="round"/>
<path d="M406.00 392.00 C406.67 394.67 406.66 397.75 408.00 400.00 C409.33 402.24 411.34 404.18 414.00 405.50 C417.51 407.24 420.85 407.37 428.00 408.00 C450.58 410.00 550.19 406.04 570.00 408.00 C575.31 408.53 576.74 408.88 580.00 410.00 C583.41 411.17 586.74 413.06 590.00 415.00 C593.41 417.03 596.78 419.30 600.00 422.00 C603.47 424.91 606.78 428.33 610.00 432.00 C613.47 435.95 616.88 440.42 620.00 445.00 C623.22 449.73 626.28 454.52 629.00 460.00 C632.02 466.08 633.89 473.43 637.00 480.00 C640.20 486.77 644.64 493.27 648.00 500.00 C651.29 506.60 654.16 513.30 657.00 520.00 C659.82 526.64 662.49 533.31 665.00 540.00 C667.49 546.64 669.99 553.29 672.00 560.00 C673.98 566.62 675.50 573.32 677.00 580.00 C678.50 586.65 679.83 593.32 681.00 600.00 C682.16 606.65 683.11 613.92 684.00 620.00 C684.74 625.08 685.33 629.33 686.00 634.00 Q686.3 639 681.5 639" fill="none" stroke="#1b9c5c" stroke-width="1.9" stroke-linecap="round"/>
<path d="M406.00 392.00 C406.67 394.00 406.87 396.27 408.00 398.00 C409.17 399.79 410.67 401.44 413.00 402.50 C416.50 404.09 420.22 403.83 428.00 404.30 C454.86 405.91 583.40 402.57 608.00 404.30 C614.38 404.75 616.27 404.84 620.00 406.00 C623.58 407.12 626.77 408.93 630.00 411.00 C633.45 413.21 636.78 415.98 640.00 419.00 C643.47 422.26 646.74 426.11 650.00 430.00 C653.42 434.09 656.74 438.45 660.00 443.00 C663.42 447.77 667.00 452.35 670.00 458.00 C673.44 464.48 675.63 472.93 679.00 480.00 C682.31 486.92 686.47 492.54 690.00 500.00 C694.20 508.88 698.55 520.40 702.00 530.00 C705.11 538.66 707.33 546.67 710.00 555.00 C712.67 563.33 715.95 572.08 718.00 580.00 C719.81 586.98 720.83 593.32 722.00 600.00 C723.16 606.65 724.22 613.92 725.00 620.00 C725.65 625.07 726.00 629.33 726.50 634.00 Q726.8 639 722.0 639" fill="none" stroke="#1b9c5c" stroke-width="1.9" stroke-linecap="round"/>
<line x1="382.6" y1="622.5" x2="382.6" y2="934" stroke="#3a3a3a" stroke-width="1.4"/>
<line x1="693.9" y1="651" x2="693.9" y2="930.5" stroke="#3a3a3a" stroke-width="1.4"/></svg></body></html>
